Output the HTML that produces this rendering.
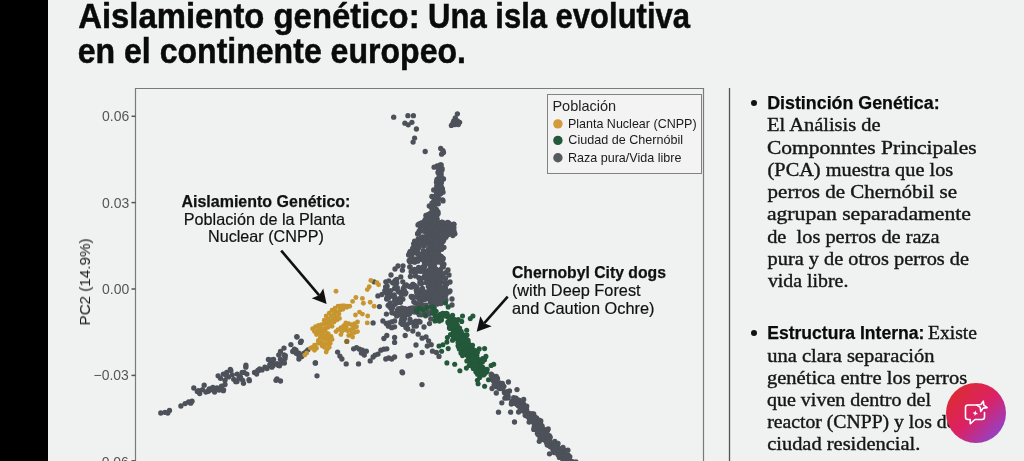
<!DOCTYPE html>
<html lang="es">
<head>
<meta charset="utf-8">
<title>Aislamiento genético</title>
<style>
html,body{margin:0;padding:0;}
body{width:1024px;height:461px;overflow:hidden;background:#f0f2f1;position:relative;font-family:"Liberation Sans",sans-serif;color:#111;}
.bar{position:absolute;left:0;top:0;width:48px;height:461px;background:#000;}
.title{position:absolute;left:76.5px;top:-1.1px;font-weight:bold;font-size:34.5px;line-height:35.4px;color:#0b0b0b;white-space:nowrap;transform:scaleX(0.93);transform-origin:0 0;}
.chart{position:absolute;left:0;top:0;width:1024px;height:461px;will-change:transform;}
.ytick{position:absolute;font-size:13.8px;color:#555;right:895px;white-space:nowrap;line-height:16px;height:16px;}
.ylab{position:absolute;left:84.6px;top:281.6px;font-size:15.2px;color:#1c1c1c;white-space:nowrap;transform:translate(-50%,-50%) rotate(-90deg);line-height:16px;}
.legend{position:absolute;left:547px;top:94px;width:153px;height:78px;border:1px solid #828282;background:#f2f3f2;box-sizing:content-box;}
.legend .lt{position:absolute;left:5.2px;top:3.4px;font-size:14px;line-height:16px;color:#222;}
.legend .li{position:absolute;left:20px;font-size:12.5px;line-height:14px;color:#1a1a1a;white-space:nowrap;}
.legend .ld{position:absolute;left:5.2px;width:9.4px;height:9.4px;border-radius:50%;}
.ann{position:absolute;white-space:nowrap;color:#111;}
.ann b{font-weight:bold;}
.rl{position:absolute;font-family:"Liberation Serif",serif;font-size:20px;line-height:22px;height:22px;color:#161616;white-space:pre;word-spacing:-1.5px;-webkit-text-stroke:0.25px #161616;}
.rb{position:absolute;font-family:"Liberation Sans",sans-serif;font-weight:bold;font-size:17.8px;line-height:22px;height:22px;color:#0b0b0b;white-space:pre;}
.bul{position:absolute;width:6px;height:6px;border-radius:50%;background:#111;}
.fab{position:absolute;left:946px;top:383px;width:60px;height:60px;border-radius:50%;background:linear-gradient(135deg,#dd2c30 10%,#dc2163 50%,#8a46d4 92%);}
</style>
</head>
<body>
<div class="bar"></div>

<svg class="chart" width="1024" height="461" viewBox="0 0 1024 461">
  <!-- plot frame -->
  <path d="M135.5 461 V88.5 H703.5 V461" fill="none" stroke="#7a7a7a" stroke-width="1.2"/>
  <!-- separator -->
  <line x1="729.5" y1="88" x2="729.5" y2="461" stroke="#555" stroke-width="1.3"/>
  <!-- ticks -->
  <g stroke="#555" stroke-width="1.5">
    <line x1="131.5" y1="116.3" x2="135.5" y2="116.3"/>
    <line x1="131.5" y1="202.6" x2="135.5" y2="202.6"/>
    <line x1="131.5" y1="289" x2="135.5" y2="289"/>
    <line x1="131.5" y1="375.4" x2="135.5" y2="375.4"/>
    <line x1="131.5" y1="460.8" x2="135.5" y2="460.8"/>
  </g>
  <g>
<circle cx="393.7" cy="117.2" r="2.65" fill="#4d515a"/>
<circle cx="407.9" cy="115.7" r="2.65" fill="#4d515a"/>
<circle cx="413.4" cy="115.7" r="2.65" fill="#4d515a"/>
<circle cx="404.9" cy="123.2" r="2.65" fill="#4d515a"/>
<circle cx="408.2" cy="124.8" r="2.65" fill="#4d515a"/>
<circle cx="411.9" cy="122.3" r="2.65" fill="#4d515a"/>
<circle cx="416.4" cy="129.0" r="2.65" fill="#4d515a"/>
<circle cx="414.6" cy="138.1" r="2.65" fill="#4d515a"/>
<circle cx="413.1" cy="142.1" r="2.65" fill="#4d515a"/>
<circle cx="425.2" cy="151.5" r="2.65" fill="#4d515a"/>
<circle cx="457.4" cy="113.8" r="2.65" fill="#4d515a"/>
<circle cx="455.3" cy="117.8" r="2.65" fill="#4d515a"/>
<circle cx="453.8" cy="120.8" r="2.65" fill="#4d515a"/>
<circle cx="457.4" cy="120.8" r="2.65" fill="#4d515a"/>
<circle cx="459.6" cy="122.3" r="2.65" fill="#4d515a"/>
<circle cx="451.4" cy="125.4" r="2.65" fill="#4d515a"/>
<circle cx="455.0" cy="124.5" r="2.65" fill="#4d515a"/>
<circle cx="458.3" cy="124.5" r="2.65" fill="#4d515a"/>
<circle cx="453.0" cy="123.0" r="2.65" fill="#4d515a"/>
<circle cx="440.7" cy="148.5" r="2.65" fill="#4d515a"/>
<circle cx="442.9" cy="150.6" r="2.65" fill="#4d515a"/>
<circle cx="441.6" cy="154.2" r="2.65" fill="#4d515a"/>
<circle cx="443.5" cy="152.5" r="2.65" fill="#4d515a"/>
<circle cx="438.0" cy="172.5" r="2.65" fill="#4d515a"/>
<circle cx="437.2" cy="165.9" r="2.65" fill="#4d515a"/>
<circle cx="440.2" cy="177.9" r="2.65" fill="#4d515a"/>
<circle cx="439.2" cy="177.2" r="2.65" fill="#4d515a"/>
<circle cx="440.2" cy="165.0" r="2.65" fill="#4d515a"/>
<circle cx="439.2" cy="166.4" r="2.65" fill="#4d515a"/>
<circle cx="439.2" cy="175.0" r="2.65" fill="#4d515a"/>
<circle cx="440.5" cy="169.8" r="2.65" fill="#4d515a"/>
<circle cx="437.3" cy="180.4" r="2.65" fill="#4d515a"/>
<circle cx="440.5" cy="174.3" r="2.65" fill="#4d515a"/>
<circle cx="436.2" cy="189.5" r="2.65" fill="#4d515a"/>
<circle cx="438.5" cy="171.6" r="2.65" fill="#4d515a"/>
<circle cx="438.3" cy="167.8" r="2.65" fill="#4d515a"/>
<circle cx="438.7" cy="185.2" r="2.65" fill="#4d515a"/>
<circle cx="442.1" cy="168.7" r="2.65" fill="#4d515a"/>
<circle cx="441.1" cy="173.7" r="2.65" fill="#4d515a"/>
<circle cx="439.1" cy="178.3" r="2.65" fill="#4d515a"/>
<circle cx="439.3" cy="169.4" r="2.65" fill="#4d515a"/>
<circle cx="441.4" cy="181.7" r="2.65" fill="#4d515a"/>
<circle cx="439.0" cy="179.2" r="2.65" fill="#4d515a"/>
<circle cx="440.8" cy="175.8" r="2.65" fill="#4d515a"/>
<circle cx="436.5" cy="182.2" r="2.65" fill="#4d515a"/>
<circle cx="441.8" cy="170.3" r="2.65" fill="#4d515a"/>
<circle cx="441.0" cy="186.7" r="2.65" fill="#4d515a"/>
<circle cx="441.2" cy="182.9" r="2.65" fill="#4d515a"/>
<circle cx="434.1" cy="167.2" r="2.65" fill="#4d515a"/>
<circle cx="439.7" cy="174.9" r="2.65" fill="#4d515a"/>
<circle cx="440.9" cy="176.7" r="2.65" fill="#4d515a"/>
<circle cx="441.2" cy="165.0" r="2.65" fill="#4d515a"/>
<circle cx="442.7" cy="178.8" r="2.65" fill="#4d515a"/>
<circle cx="441.1" cy="186.7" r="2.65" fill="#4d515a"/>
<circle cx="437.0" cy="179.5" r="2.65" fill="#4d515a"/>
<circle cx="443.5" cy="179.0" r="2.65" fill="#4d515a"/>
<circle cx="438.9" cy="188.6" r="2.65" fill="#4d515a"/>
<circle cx="440.1" cy="176.3" r="2.65" fill="#4d515a"/>
<circle cx="440.5" cy="182.2" r="2.65" fill="#4d515a"/>
<circle cx="429.3" cy="206.0" r="2.65" fill="#4d515a"/>
<circle cx="437.6" cy="195.4" r="2.65" fill="#4d515a"/>
<circle cx="436.8" cy="198.8" r="2.65" fill="#4d515a"/>
<circle cx="436.3" cy="201.4" r="2.65" fill="#4d515a"/>
<circle cx="437.8" cy="191.4" r="2.65" fill="#4d515a"/>
<circle cx="432.5" cy="211.2" r="2.65" fill="#4d515a"/>
<circle cx="438.8" cy="190.3" r="2.65" fill="#4d515a"/>
<circle cx="429.6" cy="214.0" r="2.65" fill="#4d515a"/>
<circle cx="442.4" cy="189.5" r="2.65" fill="#4d515a"/>
<circle cx="431.0" cy="214.9" r="2.65" fill="#4d515a"/>
<circle cx="431.2" cy="212.7" r="2.65" fill="#4d515a"/>
<circle cx="437.8" cy="200.1" r="2.65" fill="#4d515a"/>
<circle cx="431.9" cy="196.5" r="2.65" fill="#4d515a"/>
<circle cx="443.0" cy="192.2" r="2.65" fill="#4d515a"/>
<circle cx="438.2" cy="191.8" r="2.65" fill="#4d515a"/>
<circle cx="433.7" cy="201.5" r="2.65" fill="#4d515a"/>
<circle cx="434.7" cy="205.4" r="2.65" fill="#4d515a"/>
<circle cx="436.0" cy="199.8" r="2.65" fill="#4d515a"/>
<circle cx="442.6" cy="199.8" r="2.65" fill="#4d515a"/>
<circle cx="436.4" cy="209.5" r="2.65" fill="#4d515a"/>
<circle cx="438.3" cy="203.8" r="2.65" fill="#4d515a"/>
<circle cx="442.1" cy="188.5" r="2.65" fill="#4d515a"/>
<circle cx="430.9" cy="215.4" r="2.65" fill="#4d515a"/>
<circle cx="438.0" cy="213.8" r="2.65" fill="#4d515a"/>
<circle cx="437.4" cy="199.2" r="2.65" fill="#4d515a"/>
<circle cx="433.6" cy="206.7" r="2.65" fill="#4d515a"/>
<circle cx="437.8" cy="187.6" r="2.65" fill="#4d515a"/>
<circle cx="437.8" cy="191.2" r="2.65" fill="#4d515a"/>
<circle cx="436.9" cy="197.2" r="2.65" fill="#4d515a"/>
<circle cx="438.6" cy="191.0" r="2.65" fill="#4d515a"/>
<circle cx="439.5" cy="189.5" r="2.65" fill="#4d515a"/>
<circle cx="431.7" cy="214.7" r="2.65" fill="#4d515a"/>
<circle cx="433.3" cy="205.9" r="2.65" fill="#4d515a"/>
<circle cx="435.3" cy="197.0" r="2.65" fill="#4d515a"/>
<circle cx="433.1" cy="197.0" r="2.65" fill="#4d515a"/>
<circle cx="427.5" cy="217.8" r="2.65" fill="#4d515a"/>
<circle cx="436.9" cy="201.7" r="2.65" fill="#4d515a"/>
<circle cx="439.0" cy="189.3" r="2.65" fill="#4d515a"/>
<circle cx="437.4" cy="197.4" r="2.65" fill="#4d515a"/>
<circle cx="433.7" cy="190.0" r="2.65" fill="#4d515a"/>
<circle cx="436.7" cy="185.9" r="2.65" fill="#4d515a"/>
<circle cx="439.6" cy="191.1" r="2.65" fill="#4d515a"/>
<circle cx="432.0" cy="203.1" r="2.65" fill="#4d515a"/>
<circle cx="430.7" cy="218.1" r="2.65" fill="#4d515a"/>
<circle cx="432.9" cy="214.7" r="2.65" fill="#4d515a"/>
<circle cx="438.6" cy="198.6" r="2.65" fill="#4d515a"/>
<circle cx="438.1" cy="191.4" r="2.65" fill="#4d515a"/>
<circle cx="436.2" cy="212.6" r="2.65" fill="#4d515a"/>
<circle cx="436.2" cy="196.7" r="2.65" fill="#4d515a"/>
<circle cx="426.4" cy="217.2" r="2.65" fill="#4d515a"/>
<circle cx="430.7" cy="213.7" r="2.65" fill="#4d515a"/>
<circle cx="437.9" cy="211.6" r="2.65" fill="#4d515a"/>
<circle cx="440.4" cy="194.1" r="2.65" fill="#4d515a"/>
<circle cx="440.0" cy="187.0" r="2.65" fill="#4d515a"/>
<circle cx="440.1" cy="187.0" r="2.65" fill="#4d515a"/>
<circle cx="431.8" cy="208.3" r="2.65" fill="#4d515a"/>
<circle cx="437.2" cy="219.1" r="2.65" fill="#4d515a"/>
<circle cx="429.1" cy="218.1" r="2.65" fill="#4d515a"/>
<circle cx="432.6" cy="217.8" r="2.65" fill="#4d515a"/>
<circle cx="436.6" cy="193.1" r="2.65" fill="#4d515a"/>
<circle cx="437.2" cy="192.2" r="2.65" fill="#4d515a"/>
<circle cx="428.4" cy="214.8" r="2.65" fill="#4d515a"/>
<circle cx="436.2" cy="214.8" r="2.65" fill="#4d515a"/>
<circle cx="432.3" cy="212.3" r="2.65" fill="#4d515a"/>
<circle cx="442.3" cy="189.6" r="2.65" fill="#4d515a"/>
<circle cx="437.8" cy="213.1" r="2.65" fill="#4d515a"/>
<circle cx="434.9" cy="211.2" r="2.65" fill="#4d515a"/>
<circle cx="432.7" cy="212.0" r="2.65" fill="#4d515a"/>
<circle cx="434.8" cy="196.4" r="2.65" fill="#4d515a"/>
<circle cx="443.0" cy="200.9" r="2.65" fill="#4d515a"/>
<circle cx="435.5" cy="287.7" r="2.65" fill="#4d515a"/>
<circle cx="445.1" cy="296.1" r="2.65" fill="#4d515a"/>
<circle cx="395.0" cy="280.7" r="2.65" fill="#4d515a"/>
<circle cx="440.0" cy="298.1" r="2.65" fill="#4d515a"/>
<circle cx="421.2" cy="243.2" r="2.65" fill="#4d515a"/>
<circle cx="420.0" cy="256.2" r="2.65" fill="#4d515a"/>
<circle cx="409.8" cy="266.9" r="2.65" fill="#4d515a"/>
<circle cx="430.2" cy="238.6" r="2.65" fill="#4d515a"/>
<circle cx="420.4" cy="227.1" r="2.65" fill="#4d515a"/>
<circle cx="439.2" cy="237.8" r="2.65" fill="#4d515a"/>
<circle cx="422.1" cy="305.4" r="2.65" fill="#4d515a"/>
<circle cx="438.0" cy="254.0" r="2.65" fill="#4d515a"/>
<circle cx="430.2" cy="229.6" r="2.65" fill="#4d515a"/>
<circle cx="418.0" cy="233.2" r="2.65" fill="#4d515a"/>
<circle cx="448.1" cy="223.8" r="2.65" fill="#4d515a"/>
<circle cx="431.7" cy="239.6" r="2.65" fill="#4d515a"/>
<circle cx="433.3" cy="285.1" r="2.65" fill="#4d515a"/>
<circle cx="436.1" cy="283.9" r="2.65" fill="#4d515a"/>
<circle cx="441.2" cy="259.7" r="2.65" fill="#4d515a"/>
<circle cx="421.2" cy="240.6" r="2.65" fill="#4d515a"/>
<circle cx="437.7" cy="224.3" r="2.65" fill="#4d515a"/>
<circle cx="445.9" cy="233.8" r="2.65" fill="#4d515a"/>
<circle cx="440.7" cy="231.3" r="2.65" fill="#4d515a"/>
<circle cx="405.7" cy="285.8" r="2.65" fill="#4d515a"/>
<circle cx="427.3" cy="226.4" r="2.65" fill="#4d515a"/>
<circle cx="450.1" cy="229.8" r="2.65" fill="#4d515a"/>
<circle cx="420.3" cy="282.1" r="2.65" fill="#4d515a"/>
<circle cx="443.0" cy="258.9" r="2.65" fill="#4d515a"/>
<circle cx="414.5" cy="269.3" r="2.65" fill="#4d515a"/>
<circle cx="435.7" cy="261.9" r="2.65" fill="#4d515a"/>
<circle cx="434.0" cy="265.0" r="2.65" fill="#4d515a"/>
<circle cx="426.8" cy="217.3" r="2.65" fill="#4d515a"/>
<circle cx="440.9" cy="303.5" r="2.65" fill="#4d515a"/>
<circle cx="440.3" cy="279.3" r="2.65" fill="#4d515a"/>
<circle cx="439.6" cy="295.9" r="2.65" fill="#4d515a"/>
<circle cx="428.4" cy="283.3" r="2.65" fill="#4d515a"/>
<circle cx="444.7" cy="226.7" r="2.65" fill="#4d515a"/>
<circle cx="418.8" cy="277.7" r="2.65" fill="#4d515a"/>
<circle cx="428.2" cy="239.0" r="2.65" fill="#4d515a"/>
<circle cx="445.4" cy="288.1" r="2.65" fill="#4d515a"/>
<circle cx="431.2" cy="263.9" r="2.65" fill="#4d515a"/>
<circle cx="387.6" cy="292.0" r="2.65" fill="#4d515a"/>
<circle cx="431.3" cy="214.3" r="2.65" fill="#4d515a"/>
<circle cx="421.0" cy="259.3" r="2.65" fill="#4d515a"/>
<circle cx="414.5" cy="285.4" r="2.65" fill="#4d515a"/>
<circle cx="426.4" cy="259.4" r="2.65" fill="#4d515a"/>
<circle cx="435.9" cy="299.5" r="2.65" fill="#4d515a"/>
<circle cx="430.1" cy="286.4" r="2.65" fill="#4d515a"/>
<circle cx="430.2" cy="251.3" r="2.65" fill="#4d515a"/>
<circle cx="433.8" cy="250.2" r="2.65" fill="#4d515a"/>
<circle cx="398.7" cy="299.0" r="2.65" fill="#4d515a"/>
<circle cx="442.4" cy="265.6" r="2.65" fill="#4d515a"/>
<circle cx="428.8" cy="226.1" r="2.65" fill="#4d515a"/>
<circle cx="433.8" cy="253.6" r="2.65" fill="#4d515a"/>
<circle cx="443.9" cy="264.2" r="2.65" fill="#4d515a"/>
<circle cx="442.3" cy="259.3" r="2.65" fill="#4d515a"/>
<circle cx="441.6" cy="222.3" r="2.65" fill="#4d515a"/>
<circle cx="416.3" cy="290.2" r="2.65" fill="#4d515a"/>
<circle cx="435.9" cy="247.8" r="2.65" fill="#4d515a"/>
<circle cx="434.9" cy="235.2" r="2.65" fill="#4d515a"/>
<circle cx="388.1" cy="305.3" r="2.65" fill="#4d515a"/>
<circle cx="426.4" cy="238.6" r="2.65" fill="#4d515a"/>
<circle cx="420.7" cy="279.7" r="2.65" fill="#4d515a"/>
<circle cx="424.0" cy="293.6" r="2.65" fill="#4d515a"/>
<circle cx="443.8" cy="226.2" r="2.65" fill="#4d515a"/>
<circle cx="439.5" cy="224.5" r="2.65" fill="#4d515a"/>
<circle cx="409.6" cy="253.0" r="2.65" fill="#4d515a"/>
<circle cx="418.8" cy="304.0" r="2.65" fill="#4d515a"/>
<circle cx="434.1" cy="244.7" r="2.65" fill="#4d515a"/>
<circle cx="441.2" cy="256.3" r="2.65" fill="#4d515a"/>
<circle cx="430.9" cy="236.4" r="2.65" fill="#4d515a"/>
<circle cx="430.5" cy="283.3" r="2.65" fill="#4d515a"/>
<circle cx="426.1" cy="236.8" r="2.65" fill="#4d515a"/>
<circle cx="446.9" cy="227.6" r="2.65" fill="#4d515a"/>
<circle cx="437.5" cy="304.0" r="2.65" fill="#4d515a"/>
<circle cx="436.1" cy="246.9" r="2.65" fill="#4d515a"/>
<circle cx="415.8" cy="252.0" r="2.65" fill="#4d515a"/>
<circle cx="448.3" cy="234.4" r="2.65" fill="#4d515a"/>
<circle cx="420.4" cy="257.5" r="2.65" fill="#4d515a"/>
<circle cx="432.1" cy="307.7" r="2.65" fill="#4d515a"/>
<circle cx="410.4" cy="276.5" r="2.65" fill="#4d515a"/>
<circle cx="390.3" cy="307.4" r="2.65" fill="#4d515a"/>
<circle cx="421.8" cy="289.1" r="2.65" fill="#4d515a"/>
<circle cx="414.6" cy="245.9" r="2.65" fill="#4d515a"/>
<circle cx="436.0" cy="238.5" r="2.65" fill="#4d515a"/>
<circle cx="440.6" cy="269.9" r="2.65" fill="#4d515a"/>
<circle cx="429.4" cy="259.0" r="2.65" fill="#4d515a"/>
<circle cx="425.9" cy="282.4" r="2.65" fill="#4d515a"/>
<circle cx="444.7" cy="233.5" r="2.65" fill="#4d515a"/>
<circle cx="445.8" cy="272.6" r="2.65" fill="#4d515a"/>
<circle cx="449.1" cy="223.5" r="2.65" fill="#4d515a"/>
<circle cx="441.9" cy="259.3" r="2.65" fill="#4d515a"/>
<circle cx="400.8" cy="276.9" r="2.65" fill="#4d515a"/>
<circle cx="428.5" cy="280.1" r="2.65" fill="#4d515a"/>
<circle cx="433.7" cy="222.4" r="2.65" fill="#4d515a"/>
<circle cx="423.1" cy="242.2" r="2.65" fill="#4d515a"/>
<circle cx="439.7" cy="271.4" r="2.65" fill="#4d515a"/>
<circle cx="433.2" cy="234.0" r="2.65" fill="#4d515a"/>
<circle cx="412.1" cy="297.5" r="2.65" fill="#4d515a"/>
<circle cx="452.2" cy="228.0" r="2.65" fill="#4d515a"/>
<circle cx="453.8" cy="224.2" r="2.65" fill="#4d515a"/>
<circle cx="454.1" cy="233.3" r="2.65" fill="#4d515a"/>
<circle cx="446.1" cy="235.9" r="2.65" fill="#4d515a"/>
<circle cx="436.8" cy="231.8" r="2.65" fill="#4d515a"/>
<circle cx="429.1" cy="252.5" r="2.65" fill="#4d515a"/>
<circle cx="416.5" cy="259.0" r="2.65" fill="#4d515a"/>
<circle cx="430.2" cy="231.5" r="2.65" fill="#4d515a"/>
<circle cx="434.2" cy="226.2" r="2.65" fill="#4d515a"/>
<circle cx="434.1" cy="307.4" r="2.65" fill="#4d515a"/>
<circle cx="425.4" cy="227.8" r="2.65" fill="#4d515a"/>
<circle cx="438.6" cy="245.9" r="2.65" fill="#4d515a"/>
<circle cx="421.2" cy="303.9" r="2.65" fill="#4d515a"/>
<circle cx="419.6" cy="295.2" r="2.65" fill="#4d515a"/>
<circle cx="442.9" cy="291.8" r="2.65" fill="#4d515a"/>
<circle cx="411.3" cy="257.5" r="2.65" fill="#4d515a"/>
<circle cx="425.9" cy="215.3" r="2.65" fill="#4d515a"/>
<circle cx="430.4" cy="249.8" r="2.65" fill="#4d515a"/>
<circle cx="414.0" cy="261.9" r="2.65" fill="#4d515a"/>
<circle cx="450.2" cy="228.4" r="2.65" fill="#4d515a"/>
<circle cx="423.6" cy="293.6" r="2.65" fill="#4d515a"/>
<circle cx="430.4" cy="254.8" r="2.65" fill="#4d515a"/>
<circle cx="436.6" cy="227.7" r="2.65" fill="#4d515a"/>
<circle cx="419.2" cy="231.0" r="2.65" fill="#4d515a"/>
<circle cx="430.7" cy="286.7" r="2.65" fill="#4d515a"/>
<circle cx="428.4" cy="259.6" r="2.65" fill="#4d515a"/>
<circle cx="440.5" cy="236.9" r="2.65" fill="#4d515a"/>
<circle cx="443.3" cy="266.9" r="2.65" fill="#4d515a"/>
<circle cx="432.3" cy="246.8" r="2.65" fill="#4d515a"/>
<circle cx="414.9" cy="244.7" r="2.65" fill="#4d515a"/>
<circle cx="433.5" cy="306.8" r="2.65" fill="#4d515a"/>
<circle cx="439.2" cy="248.5" r="2.65" fill="#4d515a"/>
<circle cx="437.3" cy="297.4" r="2.65" fill="#4d515a"/>
<circle cx="406.1" cy="310.3" r="2.65" fill="#4d515a"/>
<circle cx="422.9" cy="296.6" r="2.65" fill="#4d515a"/>
<circle cx="425.6" cy="223.3" r="2.65" fill="#4d515a"/>
<circle cx="431.9" cy="245.9" r="2.65" fill="#4d515a"/>
<circle cx="444.6" cy="286.7" r="2.65" fill="#4d515a"/>
<circle cx="445.6" cy="230.5" r="2.65" fill="#4d515a"/>
<circle cx="448.7" cy="232.0" r="2.65" fill="#4d515a"/>
<circle cx="428.9" cy="242.2" r="2.65" fill="#4d515a"/>
<circle cx="406.4" cy="284.8" r="2.65" fill="#4d515a"/>
<circle cx="403.6" cy="290.6" r="2.65" fill="#4d515a"/>
<circle cx="401.6" cy="292.7" r="2.65" fill="#4d515a"/>
<circle cx="449.1" cy="232.7" r="2.65" fill="#4d515a"/>
<circle cx="443.7" cy="228.9" r="2.65" fill="#4d515a"/>
<circle cx="450.3" cy="229.6" r="2.65" fill="#4d515a"/>
<circle cx="447.4" cy="223.5" r="2.65" fill="#4d515a"/>
<circle cx="419.2" cy="224.0" r="2.65" fill="#4d515a"/>
<circle cx="413.2" cy="284.4" r="2.65" fill="#4d515a"/>
<circle cx="441.6" cy="275.2" r="2.65" fill="#4d515a"/>
<circle cx="444.4" cy="223.1" r="2.65" fill="#4d515a"/>
<circle cx="425.6" cy="308.8" r="2.65" fill="#4d515a"/>
<circle cx="442.9" cy="298.4" r="2.65" fill="#4d515a"/>
<circle cx="430.8" cy="249.6" r="2.65" fill="#4d515a"/>
<circle cx="420.0" cy="256.1" r="2.65" fill="#4d515a"/>
<circle cx="443.0" cy="240.3" r="2.65" fill="#4d515a"/>
<circle cx="418.6" cy="267.3" r="2.65" fill="#4d515a"/>
<circle cx="418.5" cy="296.4" r="2.65" fill="#4d515a"/>
<circle cx="409.6" cy="261.2" r="2.65" fill="#4d515a"/>
<circle cx="399.8" cy="298.9" r="2.65" fill="#4d515a"/>
<circle cx="433.9" cy="239.1" r="2.65" fill="#4d515a"/>
<circle cx="428.4" cy="242.0" r="2.65" fill="#4d515a"/>
<circle cx="437.9" cy="280.9" r="2.65" fill="#4d515a"/>
<circle cx="437.8" cy="278.2" r="2.65" fill="#4d515a"/>
<circle cx="431.4" cy="238.8" r="2.65" fill="#4d515a"/>
<circle cx="437.3" cy="248.7" r="2.65" fill="#4d515a"/>
<circle cx="420.1" cy="270.2" r="2.65" fill="#4d515a"/>
<circle cx="438.1" cy="234.7" r="2.65" fill="#4d515a"/>
<circle cx="430.5" cy="276.0" r="2.65" fill="#4d515a"/>
<circle cx="442.9" cy="223.4" r="2.65" fill="#4d515a"/>
<circle cx="433.9" cy="280.5" r="2.65" fill="#4d515a"/>
<circle cx="419.2" cy="270.9" r="2.65" fill="#4d515a"/>
<circle cx="391.7" cy="309.2" r="2.65" fill="#4d515a"/>
<circle cx="411.2" cy="296.5" r="2.65" fill="#4d515a"/>
<circle cx="415.0" cy="262.0" r="2.65" fill="#4d515a"/>
<circle cx="426.8" cy="226.3" r="2.65" fill="#4d515a"/>
<circle cx="411.8" cy="286.9" r="2.65" fill="#4d515a"/>
<circle cx="434.8" cy="277.9" r="2.65" fill="#4d515a"/>
<circle cx="432.8" cy="297.0" r="2.65" fill="#4d515a"/>
<circle cx="419.1" cy="298.8" r="2.65" fill="#4d515a"/>
<circle cx="439.9" cy="300.7" r="2.65" fill="#4d515a"/>
<circle cx="437.5" cy="248.7" r="2.65" fill="#4d515a"/>
<circle cx="447.1" cy="234.3" r="2.65" fill="#4d515a"/>
<circle cx="435.1" cy="260.4" r="2.65" fill="#4d515a"/>
<circle cx="410.1" cy="266.8" r="2.65" fill="#4d515a"/>
<circle cx="431.6" cy="228.3" r="2.65" fill="#4d515a"/>
<circle cx="435.8" cy="215.1" r="2.65" fill="#4d515a"/>
<circle cx="398.9" cy="292.0" r="2.65" fill="#4d515a"/>
<circle cx="434.4" cy="233.7" r="2.65" fill="#4d515a"/>
<circle cx="437.6" cy="302.7" r="2.65" fill="#4d515a"/>
<circle cx="417.7" cy="253.9" r="2.65" fill="#4d515a"/>
<circle cx="430.7" cy="271.1" r="2.65" fill="#4d515a"/>
<circle cx="435.1" cy="235.8" r="2.65" fill="#4d515a"/>
<circle cx="387.2" cy="286.1" r="2.65" fill="#4d515a"/>
<circle cx="431.7" cy="282.7" r="2.65" fill="#4d515a"/>
<circle cx="445.7" cy="223.9" r="2.65" fill="#4d515a"/>
<circle cx="445.6" cy="230.4" r="2.65" fill="#4d515a"/>
<circle cx="396.8" cy="282.8" r="2.65" fill="#4d515a"/>
<circle cx="451.2" cy="227.4" r="2.65" fill="#4d515a"/>
<circle cx="436.8" cy="277.7" r="2.65" fill="#4d515a"/>
<circle cx="435.8" cy="227.7" r="2.65" fill="#4d515a"/>
<circle cx="428.3" cy="286.5" r="2.65" fill="#4d515a"/>
<circle cx="430.1" cy="229.0" r="2.65" fill="#4d515a"/>
<circle cx="451.4" cy="230.3" r="2.65" fill="#4d515a"/>
<circle cx="402.8" cy="281.8" r="2.65" fill="#4d515a"/>
<circle cx="454.9" cy="233.8" r="2.65" fill="#4d515a"/>
<circle cx="434.9" cy="248.1" r="2.65" fill="#4d515a"/>
<circle cx="425.5" cy="232.1" r="2.65" fill="#4d515a"/>
<circle cx="434.6" cy="286.3" r="2.65" fill="#4d515a"/>
<circle cx="433.2" cy="264.0" r="2.65" fill="#4d515a"/>
<circle cx="424.6" cy="276.1" r="2.65" fill="#4d515a"/>
<circle cx="430.3" cy="302.0" r="2.65" fill="#4d515a"/>
<circle cx="430.4" cy="250.8" r="2.65" fill="#4d515a"/>
<circle cx="427.0" cy="258.9" r="2.65" fill="#4d515a"/>
<circle cx="428.5" cy="236.0" r="2.65" fill="#4d515a"/>
<circle cx="426.7" cy="216.1" r="2.65" fill="#4d515a"/>
<circle cx="410.8" cy="286.9" r="2.65" fill="#4d515a"/>
<circle cx="441.1" cy="225.6" r="2.65" fill="#4d515a"/>
<circle cx="443.0" cy="289.9" r="2.65" fill="#4d515a"/>
<circle cx="427.5" cy="253.0" r="2.65" fill="#4d515a"/>
<circle cx="431.5" cy="296.9" r="2.65" fill="#4d515a"/>
<circle cx="418.7" cy="309.2" r="2.65" fill="#4d515a"/>
<circle cx="423.5" cy="267.7" r="2.65" fill="#4d515a"/>
<circle cx="416.9" cy="242.6" r="2.65" fill="#4d515a"/>
<circle cx="424.8" cy="265.9" r="2.65" fill="#4d515a"/>
<circle cx="440.1" cy="225.8" r="2.65" fill="#4d515a"/>
<circle cx="436.5" cy="254.9" r="2.65" fill="#4d515a"/>
<circle cx="424.0" cy="299.5" r="2.65" fill="#4d515a"/>
<circle cx="435.7" cy="245.0" r="2.65" fill="#4d515a"/>
<circle cx="403.0" cy="265.8" r="2.65" fill="#4d515a"/>
<circle cx="413.8" cy="301.8" r="2.65" fill="#4d515a"/>
<circle cx="398.3" cy="314.7" r="2.65" fill="#4d515a"/>
<circle cx="445.3" cy="224.3" r="2.65" fill="#4d515a"/>
<circle cx="442.8" cy="228.9" r="2.65" fill="#4d515a"/>
<circle cx="425.3" cy="273.3" r="2.65" fill="#4d515a"/>
<circle cx="425.1" cy="243.2" r="2.65" fill="#4d515a"/>
<circle cx="394.9" cy="300.5" r="2.65" fill="#4d515a"/>
<circle cx="417.6" cy="234.0" r="2.65" fill="#4d515a"/>
<circle cx="421.5" cy="283.6" r="2.65" fill="#4d515a"/>
<circle cx="444.9" cy="297.0" r="2.65" fill="#4d515a"/>
<circle cx="439.7" cy="284.1" r="2.65" fill="#4d515a"/>
<circle cx="422.9" cy="256.4" r="2.65" fill="#4d515a"/>
<circle cx="440.0" cy="232.4" r="2.65" fill="#4d515a"/>
<circle cx="434.7" cy="278.6" r="2.65" fill="#4d515a"/>
<circle cx="427.5" cy="272.2" r="2.65" fill="#4d515a"/>
<circle cx="427.4" cy="219.4" r="2.65" fill="#4d515a"/>
<circle cx="433.6" cy="286.7" r="2.65" fill="#4d515a"/>
<circle cx="431.9" cy="240.5" r="2.65" fill="#4d515a"/>
<circle cx="412.8" cy="248.9" r="2.65" fill="#4d515a"/>
<circle cx="440.6" cy="238.7" r="2.65" fill="#4d515a"/>
<circle cx="443.8" cy="297.0" r="2.65" fill="#4d515a"/>
<circle cx="422.0" cy="238.0" r="2.65" fill="#4d515a"/>
<circle cx="421.0" cy="238.1" r="2.65" fill="#4d515a"/>
<circle cx="438.3" cy="252.7" r="2.65" fill="#4d515a"/>
<circle cx="438.5" cy="249.2" r="2.65" fill="#4d515a"/>
<circle cx="430.4" cy="242.2" r="2.65" fill="#4d515a"/>
<circle cx="423.3" cy="222.5" r="2.65" fill="#4d515a"/>
<circle cx="428.8" cy="295.9" r="2.65" fill="#4d515a"/>
<circle cx="412.1" cy="311.7" r="2.65" fill="#4d515a"/>
<circle cx="415.5" cy="259.6" r="2.65" fill="#4d515a"/>
<circle cx="427.9" cy="225.6" r="2.65" fill="#4d515a"/>
<circle cx="419.0" cy="292.5" r="2.65" fill="#4d515a"/>
<circle cx="426.4" cy="253.2" r="2.65" fill="#4d515a"/>
<circle cx="420.0" cy="243.6" r="2.65" fill="#4d515a"/>
<circle cx="437.6" cy="242.1" r="2.65" fill="#4d515a"/>
<circle cx="437.1" cy="226.6" r="2.65" fill="#4d515a"/>
<circle cx="434.2" cy="249.2" r="2.65" fill="#4d515a"/>
<circle cx="445.0" cy="231.7" r="2.65" fill="#4d515a"/>
<circle cx="409.3" cy="286.4" r="2.65" fill="#4d515a"/>
<circle cx="418.7" cy="233.4" r="2.65" fill="#4d515a"/>
<circle cx="431.8" cy="283.5" r="2.65" fill="#4d515a"/>
<circle cx="432.3" cy="242.5" r="2.65" fill="#4d515a"/>
<circle cx="411.3" cy="257.1" r="2.65" fill="#4d515a"/>
<circle cx="434.4" cy="291.5" r="2.65" fill="#4d515a"/>
<circle cx="423.9" cy="269.0" r="2.65" fill="#4d515a"/>
<circle cx="433.9" cy="245.0" r="2.65" fill="#4d515a"/>
<circle cx="429.6" cy="237.5" r="2.65" fill="#4d515a"/>
<circle cx="437.7" cy="274.7" r="2.65" fill="#4d515a"/>
<circle cx="425.5" cy="224.8" r="2.65" fill="#4d515a"/>
<circle cx="423.6" cy="259.1" r="2.65" fill="#4d515a"/>
<circle cx="445.7" cy="290.3" r="2.65" fill="#4d515a"/>
<circle cx="419.7" cy="271.1" r="2.65" fill="#4d515a"/>
<circle cx="434.5" cy="238.9" r="2.65" fill="#4d515a"/>
<circle cx="424.0" cy="246.0" r="2.65" fill="#4d515a"/>
<circle cx="397.3" cy="310.3" r="2.65" fill="#4d515a"/>
<circle cx="424.6" cy="298.1" r="2.65" fill="#4d515a"/>
<circle cx="429.0" cy="248.9" r="2.65" fill="#4d515a"/>
<circle cx="421.5" cy="296.5" r="2.65" fill="#4d515a"/>
<circle cx="413.6" cy="243.8" r="2.65" fill="#4d515a"/>
<circle cx="419.9" cy="259.1" r="2.65" fill="#4d515a"/>
<circle cx="425.2" cy="272.8" r="2.65" fill="#4d515a"/>
<circle cx="438.2" cy="224.8" r="2.65" fill="#4d515a"/>
<circle cx="422.3" cy="239.1" r="2.65" fill="#4d515a"/>
<circle cx="435.1" cy="263.4" r="2.65" fill="#4d515a"/>
<circle cx="426.7" cy="272.0" r="2.65" fill="#4d515a"/>
<circle cx="439.0" cy="255.0" r="2.65" fill="#4d515a"/>
<circle cx="429.0" cy="291.0" r="2.65" fill="#4d515a"/>
<circle cx="434.7" cy="298.5" r="2.65" fill="#4d515a"/>
<circle cx="386.3" cy="292.8" r="2.65" fill="#4d515a"/>
<circle cx="417.4" cy="251.4" r="2.65" fill="#4d515a"/>
<circle cx="419.9" cy="283.1" r="2.65" fill="#4d515a"/>
<circle cx="425.8" cy="295.7" r="2.65" fill="#4d515a"/>
<circle cx="439.2" cy="232.9" r="2.65" fill="#4d515a"/>
<circle cx="442.1" cy="224.7" r="2.65" fill="#4d515a"/>
<circle cx="417.6" cy="270.1" r="2.65" fill="#4d515a"/>
<circle cx="431.5" cy="303.2" r="2.65" fill="#4d515a"/>
<circle cx="415.5" cy="302.9" r="2.65" fill="#4d515a"/>
<circle cx="413.0" cy="297.3" r="2.65" fill="#4d515a"/>
<circle cx="421.5" cy="300.0" r="2.65" fill="#4d515a"/>
<circle cx="430.9" cy="246.9" r="2.65" fill="#4d515a"/>
<circle cx="430.2" cy="217.5" r="2.65" fill="#4d515a"/>
<circle cx="443.9" cy="247.4" r="2.65" fill="#4d515a"/>
<circle cx="427.2" cy="217.7" r="2.65" fill="#4d515a"/>
<circle cx="405.9" cy="292.8" r="2.65" fill="#4d515a"/>
<circle cx="426.2" cy="294.9" r="2.65" fill="#4d515a"/>
<circle cx="423.4" cy="291.6" r="2.65" fill="#4d515a"/>
<circle cx="433.6" cy="262.6" r="2.65" fill="#4d515a"/>
<circle cx="445.9" cy="237.2" r="2.65" fill="#4d515a"/>
<circle cx="417.1" cy="259.7" r="2.65" fill="#4d515a"/>
<circle cx="429.0" cy="230.4" r="2.65" fill="#4d515a"/>
<circle cx="424.8" cy="305.6" r="2.65" fill="#4d515a"/>
<circle cx="441.7" cy="234.9" r="2.65" fill="#4d515a"/>
<circle cx="412.9" cy="247.8" r="2.65" fill="#4d515a"/>
<circle cx="424.7" cy="277.5" r="2.65" fill="#4d515a"/>
<circle cx="427.0" cy="260.7" r="2.65" fill="#4d515a"/>
<circle cx="419.2" cy="314.7" r="2.65" fill="#4d515a"/>
<circle cx="447.8" cy="222.6" r="2.65" fill="#4d515a"/>
<circle cx="426.6" cy="273.6" r="2.65" fill="#4d515a"/>
<circle cx="431.8" cy="289.3" r="2.65" fill="#4d515a"/>
<circle cx="445.3" cy="292.9" r="2.65" fill="#4d515a"/>
<circle cx="441.7" cy="259.7" r="2.65" fill="#4d515a"/>
<circle cx="442.2" cy="226.6" r="2.65" fill="#4d515a"/>
<circle cx="447.7" cy="222.3" r="2.65" fill="#4d515a"/>
<circle cx="416.8" cy="270.2" r="2.65" fill="#4d515a"/>
<circle cx="409.2" cy="260.4" r="2.65" fill="#4d515a"/>
<circle cx="434.6" cy="236.1" r="2.65" fill="#4d515a"/>
<circle cx="432.8" cy="302.5" r="2.65" fill="#4d515a"/>
<circle cx="441.3" cy="242.1" r="2.65" fill="#4d515a"/>
<circle cx="440.3" cy="274.6" r="2.65" fill="#4d515a"/>
<circle cx="443.4" cy="301.9" r="2.65" fill="#4d515a"/>
<circle cx="434.0" cy="243.7" r="2.65" fill="#4d515a"/>
<circle cx="421.3" cy="223.0" r="2.65" fill="#4d515a"/>
<circle cx="385.6" cy="286.8" r="2.65" fill="#4d515a"/>
<circle cx="429.7" cy="223.8" r="2.65" fill="#4d515a"/>
<circle cx="440.3" cy="249.0" r="2.65" fill="#4d515a"/>
<circle cx="422.4" cy="288.3" r="2.65" fill="#4d515a"/>
<circle cx="428.6" cy="220.1" r="2.65" fill="#4d515a"/>
<circle cx="414.3" cy="252.9" r="2.65" fill="#4d515a"/>
<circle cx="425.6" cy="315.8" r="2.65" fill="#4d515a"/>
<circle cx="415.4" cy="275.9" r="2.65" fill="#4d515a"/>
<circle cx="444.6" cy="300.9" r="2.65" fill="#4d515a"/>
<circle cx="422.8" cy="266.8" r="2.65" fill="#4d515a"/>
<circle cx="429.9" cy="237.6" r="2.65" fill="#4d515a"/>
<circle cx="426.5" cy="298.7" r="2.65" fill="#4d515a"/>
<circle cx="432.7" cy="266.7" r="2.65" fill="#4d515a"/>
<circle cx="434.1" cy="284.6" r="2.65" fill="#4d515a"/>
<circle cx="427.7" cy="237.5" r="2.65" fill="#4d515a"/>
<circle cx="427.0" cy="271.8" r="2.65" fill="#4d515a"/>
<circle cx="431.8" cy="301.5" r="2.65" fill="#4d515a"/>
<circle cx="438.6" cy="243.4" r="2.65" fill="#4d515a"/>
<circle cx="441.7" cy="249.3" r="2.65" fill="#4d515a"/>
<circle cx="404.5" cy="286.3" r="2.65" fill="#4d515a"/>
<circle cx="439.1" cy="299.5" r="2.65" fill="#4d515a"/>
<circle cx="437.3" cy="258.3" r="2.65" fill="#4d515a"/>
<circle cx="439.1" cy="292.3" r="2.65" fill="#4d515a"/>
<circle cx="438.9" cy="223.5" r="2.65" fill="#4d515a"/>
<circle cx="431.5" cy="286.2" r="2.65" fill="#4d515a"/>
<circle cx="446.6" cy="284.2" r="2.65" fill="#4d515a"/>
<circle cx="416.0" cy="297.1" r="2.65" fill="#4d515a"/>
<circle cx="421.4" cy="314.8" r="2.65" fill="#4d515a"/>
<circle cx="402.4" cy="270.2" r="2.65" fill="#4d515a"/>
<circle cx="400.2" cy="302.3" r="2.65" fill="#4d515a"/>
<circle cx="429.9" cy="251.5" r="2.65" fill="#4d515a"/>
<circle cx="424.5" cy="270.3" r="2.65" fill="#4d515a"/>
<circle cx="430.1" cy="271.2" r="2.65" fill="#4d515a"/>
<circle cx="443.8" cy="234.3" r="2.65" fill="#4d515a"/>
<circle cx="423.0" cy="243.2" r="2.65" fill="#4d515a"/>
<circle cx="409.4" cy="314.0" r="2.65" fill="#4d515a"/>
<circle cx="433.4" cy="269.2" r="2.65" fill="#4d515a"/>
<circle cx="434.1" cy="267.2" r="2.65" fill="#4d515a"/>
<circle cx="440.4" cy="222.6" r="2.65" fill="#4d515a"/>
<circle cx="435.5" cy="268.7" r="2.65" fill="#4d515a"/>
<circle cx="417.9" cy="312.6" r="2.65" fill="#4d515a"/>
<circle cx="431.7" cy="247.3" r="2.65" fill="#4d515a"/>
<circle cx="416.3" cy="249.3" r="2.65" fill="#4d515a"/>
<circle cx="436.4" cy="303.0" r="2.65" fill="#4d515a"/>
<circle cx="422.2" cy="225.1" r="2.65" fill="#4d515a"/>
<circle cx="424.6" cy="261.2" r="2.65" fill="#4d515a"/>
<circle cx="417.3" cy="250.8" r="2.65" fill="#4d515a"/>
<circle cx="436.4" cy="226.1" r="2.65" fill="#4d515a"/>
<circle cx="447.6" cy="228.8" r="2.65" fill="#4d515a"/>
<circle cx="434.9" cy="284.3" r="2.65" fill="#4d515a"/>
<circle cx="438.0" cy="255.4" r="2.65" fill="#4d515a"/>
<circle cx="393.4" cy="282.9" r="2.65" fill="#4d515a"/>
<circle cx="452.8" cy="235.6" r="2.65" fill="#4d515a"/>
<circle cx="432.5" cy="294.5" r="2.65" fill="#4d515a"/>
<circle cx="437.9" cy="278.5" r="2.65" fill="#4d515a"/>
<circle cx="405.0" cy="294.0" r="2.65" fill="#4d515a"/>
<circle cx="442.9" cy="289.8" r="2.65" fill="#4d515a"/>
<circle cx="434.5" cy="293.8" r="2.65" fill="#4d515a"/>
<circle cx="424.8" cy="310.4" r="2.65" fill="#4d515a"/>
<circle cx="435.4" cy="294.7" r="2.65" fill="#4d515a"/>
<circle cx="438.1" cy="254.8" r="2.65" fill="#4d515a"/>
<circle cx="420.3" cy="299.1" r="2.65" fill="#4d515a"/>
<circle cx="411.9" cy="296.7" r="2.65" fill="#4d515a"/>
<circle cx="440.5" cy="235.0" r="2.65" fill="#4d515a"/>
<circle cx="432.7" cy="243.1" r="2.65" fill="#4d515a"/>
<circle cx="434.7" cy="285.2" r="2.65" fill="#4d515a"/>
<circle cx="431.0" cy="232.0" r="2.65" fill="#4d515a"/>
<circle cx="426.6" cy="253.6" r="2.65" fill="#4d515a"/>
<circle cx="401.4" cy="310.3" r="2.65" fill="#4d515a"/>
<circle cx="439.6" cy="301.8" r="2.65" fill="#4d515a"/>
<circle cx="431.2" cy="283.4" r="2.65" fill="#4d515a"/>
<circle cx="389.6" cy="304.8" r="2.65" fill="#4d515a"/>
<circle cx="418.0" cy="304.8" r="2.65" fill="#4d515a"/>
<circle cx="415.1" cy="286.1" r="2.65" fill="#4d515a"/>
<circle cx="401.5" cy="294.7" r="2.65" fill="#4d515a"/>
<circle cx="386.2" cy="289.0" r="2.65" fill="#4d515a"/>
<circle cx="429.9" cy="312.1" r="2.65" fill="#4d515a"/>
<circle cx="431.0" cy="246.1" r="2.65" fill="#4d515a"/>
<circle cx="443.8" cy="239.8" r="2.65" fill="#4d515a"/>
<circle cx="427.8" cy="240.5" r="2.65" fill="#4d515a"/>
<circle cx="402.8" cy="299.2" r="2.65" fill="#4d515a"/>
<circle cx="430.1" cy="241.4" r="2.65" fill="#4d515a"/>
<circle cx="411.8" cy="271.3" r="2.65" fill="#4d515a"/>
<circle cx="434.6" cy="290.6" r="2.65" fill="#4d515a"/>
<circle cx="453.8" cy="224.5" r="2.65" fill="#4d515a"/>
<circle cx="434.5" cy="289.5" r="2.65" fill="#4d515a"/>
<circle cx="428.7" cy="249.0" r="2.65" fill="#4d515a"/>
<circle cx="391.7" cy="305.9" r="2.65" fill="#4d515a"/>
<circle cx="420.5" cy="281.8" r="2.65" fill="#4d515a"/>
<circle cx="440.4" cy="290.7" r="2.65" fill="#4d515a"/>
<circle cx="439.2" cy="289.5" r="2.65" fill="#4d515a"/>
<circle cx="435.4" cy="285.5" r="2.65" fill="#4d515a"/>
<circle cx="427.8" cy="297.9" r="2.65" fill="#4d515a"/>
<circle cx="416.4" cy="246.5" r="2.65" fill="#4d515a"/>
<circle cx="430.9" cy="241.3" r="2.65" fill="#4d515a"/>
<circle cx="389.8" cy="296.2" r="2.65" fill="#4d515a"/>
<circle cx="423.0" cy="277.8" r="2.65" fill="#4d515a"/>
<circle cx="434.3" cy="294.7" r="2.65" fill="#4d515a"/>
<circle cx="433.7" cy="256.7" r="2.65" fill="#4d515a"/>
<circle cx="426.2" cy="273.2" r="2.65" fill="#4d515a"/>
<circle cx="444.1" cy="226.8" r="2.65" fill="#4d515a"/>
<circle cx="425.2" cy="259.8" r="2.65" fill="#4d515a"/>
<circle cx="431.6" cy="266.2" r="2.65" fill="#4d515a"/>
<circle cx="416.9" cy="287.1" r="2.65" fill="#4d515a"/>
<circle cx="400.4" cy="301.9" r="2.65" fill="#4d515a"/>
<circle cx="430.7" cy="295.9" r="2.65" fill="#4d515a"/>
<circle cx="435.4" cy="224.0" r="2.65" fill="#4d515a"/>
<circle cx="390.9" cy="294.9" r="2.65" fill="#4d515a"/>
<circle cx="424.2" cy="299.7" r="2.65" fill="#4d515a"/>
<circle cx="434.3" cy="273.3" r="2.65" fill="#4d515a"/>
<circle cx="425.8" cy="260.8" r="2.65" fill="#4d515a"/>
<circle cx="431.6" cy="234.2" r="2.65" fill="#4d515a"/>
<circle cx="439.6" cy="226.0" r="2.65" fill="#4d515a"/>
<circle cx="444.0" cy="236.6" r="2.65" fill="#4d515a"/>
<circle cx="445.5" cy="278.3" r="2.65" fill="#4d515a"/>
<circle cx="437.7" cy="295.7" r="2.65" fill="#4d515a"/>
<circle cx="401.9" cy="308.8" r="2.65" fill="#4d515a"/>
<circle cx="426.2" cy="221.0" r="2.65" fill="#4d515a"/>
<circle cx="409.4" cy="253.9" r="2.65" fill="#4d515a"/>
<circle cx="448.1" cy="234.3" r="2.65" fill="#4d515a"/>
<circle cx="439.2" cy="249.3" r="2.65" fill="#4d515a"/>
<circle cx="432.4" cy="213.7" r="2.65" fill="#4d515a"/>
<circle cx="412.7" cy="284.3" r="2.65" fill="#4d515a"/>
<circle cx="432.4" cy="275.9" r="2.65" fill="#4d515a"/>
<circle cx="424.5" cy="239.0" r="2.65" fill="#4d515a"/>
<circle cx="442.3" cy="222.8" r="2.65" fill="#4d515a"/>
<circle cx="404.3" cy="290.5" r="2.65" fill="#4d515a"/>
<circle cx="416.7" cy="292.8" r="2.65" fill="#4d515a"/>
<circle cx="442.2" cy="222.2" r="2.65" fill="#4d515a"/>
<circle cx="421.6" cy="289.8" r="2.65" fill="#4d515a"/>
<circle cx="441.5" cy="234.5" r="2.65" fill="#4d515a"/>
<circle cx="431.1" cy="273.9" r="2.65" fill="#4d515a"/>
<circle cx="437.2" cy="244.3" r="2.65" fill="#4d515a"/>
<circle cx="453.9" cy="227.6" r="2.65" fill="#4d515a"/>
<circle cx="395.5" cy="283.8" r="2.65" fill="#4d515a"/>
<circle cx="426.8" cy="244.2" r="2.65" fill="#4d515a"/>
<circle cx="423.1" cy="295.7" r="2.65" fill="#4d515a"/>
<circle cx="430.9" cy="271.7" r="2.65" fill="#4d515a"/>
<circle cx="418.2" cy="238.9" r="2.65" fill="#4d515a"/>
<circle cx="420.3" cy="242.4" r="2.65" fill="#4d515a"/>
<circle cx="431.0" cy="233.0" r="2.65" fill="#4d515a"/>
<circle cx="421.8" cy="230.9" r="2.65" fill="#4d515a"/>
<circle cx="446.6" cy="234.9" r="2.65" fill="#4d515a"/>
<circle cx="403.3" cy="288.3" r="2.65" fill="#4d515a"/>
<circle cx="424.4" cy="262.6" r="2.65" fill="#4d515a"/>
<circle cx="395.2" cy="301.3" r="2.65" fill="#4d515a"/>
<circle cx="432.2" cy="221.4" r="2.65" fill="#4d515a"/>
<circle cx="429.5" cy="258.2" r="2.65" fill="#4d515a"/>
<circle cx="417.7" cy="260.0" r="2.65" fill="#4d515a"/>
<circle cx="408.6" cy="254.9" r="2.65" fill="#4d515a"/>
<circle cx="410.2" cy="251.5" r="2.65" fill="#4d515a"/>
<circle cx="432.9" cy="227.2" r="2.65" fill="#4d515a"/>
<circle cx="430.9" cy="259.6" r="2.65" fill="#4d515a"/>
<circle cx="411.5" cy="255.0" r="2.65" fill="#4d515a"/>
<circle cx="434.2" cy="302.7" r="2.65" fill="#4d515a"/>
<circle cx="390.2" cy="296.1" r="2.65" fill="#4d515a"/>
<circle cx="440.5" cy="280.8" r="2.65" fill="#4d515a"/>
<circle cx="411.1" cy="271.7" r="2.65" fill="#4d515a"/>
<circle cx="434.2" cy="279.7" r="2.65" fill="#4d515a"/>
<circle cx="422.9" cy="237.0" r="2.65" fill="#4d515a"/>
<circle cx="424.8" cy="292.0" r="2.65" fill="#4d515a"/>
<circle cx="428.8" cy="240.4" r="2.65" fill="#4d515a"/>
<circle cx="444.2" cy="231.1" r="2.65" fill="#4d515a"/>
<circle cx="444.3" cy="282.6" r="2.65" fill="#4d515a"/>
<circle cx="403.6" cy="312.5" r="2.65" fill="#4d515a"/>
<circle cx="438.3" cy="297.6" r="2.65" fill="#4d515a"/>
<circle cx="415.2" cy="273.6" r="2.65" fill="#4d515a"/>
<circle cx="431.3" cy="220.2" r="2.65" fill="#4d515a"/>
<circle cx="437.1" cy="215.0" r="2.65" fill="#4d515a"/>
<circle cx="429.6" cy="228.3" r="2.65" fill="#4d515a"/>
<circle cx="439.2" cy="256.0" r="2.65" fill="#4d515a"/>
<circle cx="435.4" cy="218.7" r="2.65" fill="#4d515a"/>
<circle cx="429.8" cy="284.8" r="2.65" fill="#4d515a"/>
<circle cx="426.2" cy="263.7" r="2.65" fill="#4d515a"/>
<circle cx="430.0" cy="295.8" r="2.65" fill="#4d515a"/>
<circle cx="428.1" cy="281.3" r="2.65" fill="#4d515a"/>
<circle cx="436.4" cy="278.3" r="2.65" fill="#4d515a"/>
<circle cx="397.3" cy="287.6" r="2.65" fill="#4d515a"/>
<circle cx="440.9" cy="278.9" r="2.65" fill="#4d515a"/>
<circle cx="427.0" cy="234.1" r="2.65" fill="#4d515a"/>
<circle cx="448.5" cy="229.2" r="2.65" fill="#4d515a"/>
<circle cx="428.7" cy="294.8" r="2.65" fill="#4d515a"/>
<circle cx="420.4" cy="303.4" r="2.65" fill="#4d515a"/>
<circle cx="432.4" cy="265.2" r="2.65" fill="#4d515a"/>
<circle cx="435.9" cy="223.9" r="2.65" fill="#4d515a"/>
<circle cx="442.0" cy="235.9" r="2.65" fill="#4d515a"/>
<circle cx="442.1" cy="292.3" r="2.65" fill="#4d515a"/>
<circle cx="408.2" cy="309.2" r="2.65" fill="#4d515a"/>
<circle cx="419.4" cy="306.7" r="2.65" fill="#4d515a"/>
<circle cx="426.4" cy="292.4" r="2.65" fill="#4d515a"/>
<circle cx="430.5" cy="256.9" r="2.65" fill="#4d515a"/>
<circle cx="451.0" cy="225.0" r="2.65" fill="#4d515a"/>
<circle cx="418.9" cy="306.1" r="2.65" fill="#4d515a"/>
<circle cx="405.2" cy="311.7" r="2.65" fill="#4d515a"/>
<circle cx="404.3" cy="315.0" r="2.65" fill="#4d515a"/>
<circle cx="425.7" cy="311.1" r="2.65" fill="#4d515a"/>
<circle cx="423.2" cy="250.7" r="2.65" fill="#4d515a"/>
<circle cx="433.1" cy="224.4" r="2.65" fill="#4d515a"/>
<circle cx="434.3" cy="290.8" r="2.65" fill="#4d515a"/>
<circle cx="431.8" cy="290.7" r="2.65" fill="#4d515a"/>
<circle cx="437.2" cy="300.3" r="2.65" fill="#4d515a"/>
<circle cx="435.9" cy="269.4" r="2.65" fill="#4d515a"/>
<circle cx="418.2" cy="293.6" r="2.65" fill="#4d515a"/>
<circle cx="419.2" cy="246.7" r="2.65" fill="#4d515a"/>
<circle cx="424.9" cy="220.3" r="2.65" fill="#4d515a"/>
<circle cx="442.2" cy="260.6" r="2.65" fill="#4d515a"/>
<circle cx="426.0" cy="305.2" r="2.65" fill="#4d515a"/>
<circle cx="437.3" cy="257.2" r="2.65" fill="#4d515a"/>
<circle cx="421.7" cy="294.3" r="2.65" fill="#4d515a"/>
<circle cx="441.4" cy="257.6" r="2.65" fill="#4d515a"/>
<circle cx="444.9" cy="233.8" r="2.65" fill="#4d515a"/>
<circle cx="397.4" cy="302.5" r="2.65" fill="#4d515a"/>
<circle cx="436.9" cy="270.7" r="2.65" fill="#4d515a"/>
<circle cx="430.0" cy="239.7" r="2.65" fill="#4d515a"/>
<circle cx="417.7" cy="261.2" r="2.65" fill="#4d515a"/>
<circle cx="410.3" cy="308.3" r="2.65" fill="#4d515a"/>
<circle cx="428.1" cy="238.2" r="2.65" fill="#4d515a"/>
<circle cx="436.2" cy="244.2" r="2.65" fill="#4d515a"/>
<circle cx="435.6" cy="221.8" r="2.65" fill="#4d515a"/>
<circle cx="454.0" cy="231.9" r="2.65" fill="#4d515a"/>
<circle cx="410.2" cy="261.6" r="2.65" fill="#4d515a"/>
<circle cx="453.8" cy="230.4" r="2.65" fill="#4d515a"/>
<circle cx="420.7" cy="254.5" r="2.65" fill="#4d515a"/>
<circle cx="431.6" cy="284.1" r="2.65" fill="#4d515a"/>
<circle cx="441.8" cy="288.0" r="2.65" fill="#4d515a"/>
<circle cx="424.8" cy="254.4" r="2.65" fill="#4d515a"/>
<circle cx="447.2" cy="228.0" r="2.65" fill="#4d515a"/>
<circle cx="443.5" cy="273.8" r="2.65" fill="#4d515a"/>
<circle cx="440.2" cy="269.6" r="2.65" fill="#4d515a"/>
<circle cx="405.1" cy="308.7" r="2.65" fill="#4d515a"/>
<circle cx="425.3" cy="239.8" r="2.65" fill="#4d515a"/>
<circle cx="430.3" cy="307.0" r="2.65" fill="#4d515a"/>
<circle cx="439.9" cy="228.1" r="2.65" fill="#4d515a"/>
<circle cx="438.7" cy="257.7" r="2.65" fill="#4d515a"/>
<circle cx="435.5" cy="252.7" r="2.65" fill="#4d515a"/>
<circle cx="436.2" cy="216.9" r="2.65" fill="#4d515a"/>
<circle cx="430.8" cy="277.9" r="2.65" fill="#4d515a"/>
<circle cx="437.2" cy="257.7" r="2.65" fill="#4d515a"/>
<circle cx="434.9" cy="231.0" r="2.65" fill="#4d515a"/>
<circle cx="433.7" cy="283.1" r="2.65" fill="#4d515a"/>
<circle cx="427.2" cy="272.3" r="2.65" fill="#4d515a"/>
<circle cx="438.2" cy="270.8" r="2.65" fill="#4d515a"/>
<circle cx="446.0" cy="294.6" r="2.65" fill="#4d515a"/>
<circle cx="435.1" cy="223.6" r="2.65" fill="#4d515a"/>
<circle cx="430.4" cy="279.8" r="2.65" fill="#4d515a"/>
<circle cx="443.0" cy="241.6" r="2.65" fill="#4d515a"/>
<circle cx="410.2" cy="261.7" r="2.65" fill="#4d515a"/>
<circle cx="411.2" cy="251.8" r="2.65" fill="#4d515a"/>
<circle cx="439.8" cy="262.2" r="2.65" fill="#4d515a"/>
<circle cx="394.9" cy="288.1" r="2.65" fill="#4d515a"/>
<circle cx="413.0" cy="296.9" r="2.65" fill="#4d515a"/>
<circle cx="437.4" cy="292.4" r="2.65" fill="#4d515a"/>
<circle cx="436.6" cy="258.7" r="2.65" fill="#4d515a"/>
<circle cx="415.6" cy="308.1" r="2.65" fill="#4d515a"/>
<circle cx="436.0" cy="230.3" r="2.65" fill="#4d515a"/>
<circle cx="437.4" cy="240.6" r="2.65" fill="#4d515a"/>
<circle cx="428.8" cy="314.1" r="2.65" fill="#4d515a"/>
<circle cx="429.6" cy="269.4" r="2.65" fill="#4d515a"/>
<circle cx="429.3" cy="277.8" r="2.65" fill="#4d515a"/>
<circle cx="425.3" cy="219.6" r="2.65" fill="#4d515a"/>
<circle cx="430.5" cy="265.3" r="2.65" fill="#4d515a"/>
<circle cx="391.9" cy="312.8" r="2.65" fill="#4d515a"/>
<circle cx="389.1" cy="306.0" r="2.65" fill="#4d515a"/>
<circle cx="402.4" cy="314.1" r="2.65" fill="#4d515a"/>
<circle cx="420.2" cy="280.3" r="2.65" fill="#4d515a"/>
<circle cx="428.0" cy="214.6" r="2.65" fill="#4d515a"/>
<circle cx="398.1" cy="291.0" r="2.65" fill="#4d515a"/>
<circle cx="434.7" cy="262.2" r="2.65" fill="#4d515a"/>
<circle cx="441.3" cy="299.0" r="2.65" fill="#4d515a"/>
<circle cx="430.8" cy="275.2" r="2.65" fill="#4d515a"/>
<circle cx="433.9" cy="221.5" r="2.65" fill="#4d515a"/>
<circle cx="411.9" cy="309.5" r="2.65" fill="#4d515a"/>
<circle cx="435.0" cy="247.5" r="2.65" fill="#4d515a"/>
<circle cx="431.3" cy="254.0" r="2.65" fill="#4d515a"/>
<circle cx="418.8" cy="247.5" r="2.65" fill="#4d515a"/>
<circle cx="412.0" cy="257.4" r="2.65" fill="#4d515a"/>
<circle cx="412.6" cy="307.8" r="2.65" fill="#4d515a"/>
<circle cx="427.8" cy="258.1" r="2.65" fill="#4d515a"/>
<circle cx="430.7" cy="278.6" r="2.65" fill="#4d515a"/>
<circle cx="418.0" cy="224.9" r="2.65" fill="#4d515a"/>
<circle cx="444.6" cy="294.0" r="2.65" fill="#4d515a"/>
<circle cx="421.9" cy="271.3" r="2.65" fill="#4d515a"/>
<circle cx="428.7" cy="234.9" r="2.65" fill="#4d515a"/>
<circle cx="431.9" cy="288.5" r="2.65" fill="#4d515a"/>
<circle cx="414.6" cy="241.1" r="2.65" fill="#4d515a"/>
<circle cx="430.9" cy="312.1" r="2.65" fill="#4d515a"/>
<circle cx="438.5" cy="286.3" r="2.65" fill="#4d515a"/>
<circle cx="443.0" cy="258.2" r="2.65" fill="#4d515a"/>
<circle cx="451.1" cy="231.9" r="2.65" fill="#4d515a"/>
<circle cx="425.0" cy="251.6" r="2.65" fill="#4d515a"/>
<circle cx="426.1" cy="239.3" r="2.65" fill="#4d515a"/>
<circle cx="422.7" cy="291.4" r="2.65" fill="#4d515a"/>
<circle cx="437.8" cy="275.9" r="2.65" fill="#4d515a"/>
<circle cx="415.0" cy="272.2" r="2.65" fill="#4d515a"/>
<circle cx="396.6" cy="279.4" r="2.65" fill="#4d515a"/>
<circle cx="441.4" cy="245.1" r="2.65" fill="#4d515a"/>
<circle cx="437.6" cy="251.9" r="2.65" fill="#4d515a"/>
<circle cx="434.3" cy="223.8" r="2.65" fill="#4d515a"/>
<circle cx="394.2" cy="296.9" r="2.65" fill="#4d515a"/>
<circle cx="388.6" cy="297.7" r="2.65" fill="#4d515a"/>
<circle cx="394.2" cy="297.0" r="2.65" fill="#4d515a"/>
<circle cx="396.0" cy="299.1" r="2.65" fill="#4d515a"/>
<circle cx="386.6" cy="299.0" r="2.65" fill="#4d515a"/>
<circle cx="390.1" cy="303.0" r="2.65" fill="#4d515a"/>
<circle cx="377.9" cy="295.9" r="2.65" fill="#4d515a"/>
<circle cx="394.9" cy="301.2" r="2.65" fill="#4d515a"/>
<circle cx="387.2" cy="297.2" r="2.65" fill="#4d515a"/>
<circle cx="394.2" cy="294.9" r="2.65" fill="#4d515a"/>
<circle cx="395.0" cy="269.0" r="2.65" fill="#4d515a"/>
<circle cx="391.0" cy="275.0" r="2.65" fill="#4d515a"/>
<circle cx="398.0" cy="266.0" r="2.65" fill="#4d515a"/>
<circle cx="447.0" cy="283.0" r="2.65" fill="#4d515a"/>
<circle cx="450.0" cy="291.0" r="2.65" fill="#4d515a"/>
<circle cx="452.0" cy="299.0" r="2.65" fill="#4d515a"/>
<circle cx="449.0" cy="275.0" r="2.65" fill="#4d515a"/>
<circle cx="414.8" cy="312.1" r="2.65" fill="#4d515a"/>
<circle cx="400.9" cy="323.1" r="2.65" fill="#4d515a"/>
<circle cx="400.5" cy="314.1" r="2.65" fill="#4d515a"/>
<circle cx="429.5" cy="323.6" r="2.65" fill="#4d515a"/>
<circle cx="404.6" cy="318.2" r="2.65" fill="#4d515a"/>
<circle cx="401.2" cy="309.8" r="2.65" fill="#4d515a"/>
<circle cx="403.8" cy="320.7" r="2.65" fill="#4d515a"/>
<circle cx="413.1" cy="311.5" r="2.65" fill="#4d515a"/>
<circle cx="386.2" cy="323.5" r="2.65" fill="#4d515a"/>
<circle cx="401.5" cy="320.7" r="2.65" fill="#4d515a"/>
<circle cx="415.7" cy="323.5" r="2.65" fill="#4d515a"/>
<circle cx="402.5" cy="310.4" r="2.65" fill="#4d515a"/>
<circle cx="402.0" cy="318.4" r="2.65" fill="#4d515a"/>
<circle cx="410.7" cy="309.6" r="2.65" fill="#4d515a"/>
<circle cx="412.8" cy="310.9" r="2.65" fill="#4d515a"/>
<circle cx="407.8" cy="314.6" r="2.65" fill="#4d515a"/>
<circle cx="412.8" cy="331.0" r="2.65" fill="#4d515a"/>
<circle cx="401.8" cy="307.8" r="2.65" fill="#4d515a"/>
<circle cx="396.7" cy="316.1" r="2.65" fill="#4d515a"/>
<circle cx="410.0" cy="319.5" r="2.65" fill="#4d515a"/>
<circle cx="398.6" cy="308.7" r="2.65" fill="#4d515a"/>
<circle cx="407.2" cy="324.6" r="2.65" fill="#4d515a"/>
<circle cx="417.0" cy="322.2" r="2.65" fill="#4d515a"/>
<circle cx="413.6" cy="322.3" r="2.65" fill="#4d515a"/>
<circle cx="403.1" cy="323.0" r="2.65" fill="#4d515a"/>
<circle cx="415.7" cy="321.1" r="2.65" fill="#4d515a"/>
<circle cx="404.0" cy="313.8" r="2.65" fill="#4d515a"/>
<circle cx="402.6" cy="324.4" r="2.65" fill="#4d515a"/>
<circle cx="394.7" cy="313.6" r="2.65" fill="#4d515a"/>
<circle cx="410.4" cy="308.3" r="2.65" fill="#4d515a"/>
<circle cx="409.9" cy="322.4" r="2.65" fill="#4d515a"/>
<circle cx="414.2" cy="309.2" r="2.65" fill="#4d515a"/>
<circle cx="408.2" cy="310.3" r="2.65" fill="#4d515a"/>
<circle cx="382.9" cy="321.0" r="2.65" fill="#4d515a"/>
<circle cx="414.4" cy="308.2" r="2.65" fill="#4d515a"/>
<circle cx="418.8" cy="321.1" r="2.65" fill="#4d515a"/>
<circle cx="430.8" cy="318.9" r="2.65" fill="#4d515a"/>
<circle cx="423.9" cy="314.3" r="2.65" fill="#4d515a"/>
<circle cx="405.9" cy="327.5" r="2.65" fill="#4d515a"/>
<circle cx="416.3" cy="326.1" r="2.65" fill="#4d515a"/>
<circle cx="418.2" cy="334.2" r="2.65" fill="#4d515a"/>
<circle cx="422.1" cy="338.2" r="2.65" fill="#4d515a"/>
<circle cx="426.0" cy="336.9" r="2.65" fill="#4d515a"/>
<circle cx="428.6" cy="340.8" r="2.65" fill="#4d515a"/>
<circle cx="431.2" cy="344.7" r="2.65" fill="#4d515a"/>
<circle cx="427.3" cy="346.0" r="2.65" fill="#4d515a"/>
<circle cx="432.5" cy="351.2" r="2.65" fill="#4d515a"/>
<circle cx="436.4" cy="352.5" r="2.65" fill="#4d515a"/>
<circle cx="439.0" cy="356.4" r="2.65" fill="#4d515a"/>
<circle cx="422.1" cy="352.5" r="2.65" fill="#4d515a"/>
<circle cx="410.4" cy="355.1" r="2.65" fill="#4d515a"/>
<circle cx="402.6" cy="372.8" r="2.65" fill="#4d515a"/>
<circle cx="405.2" cy="335.5" r="2.65" fill="#4d515a"/>
<circle cx="407.8" cy="329.0" r="2.65" fill="#4d515a"/>
<circle cx="414.0" cy="326.0" r="2.65" fill="#4d515a"/>
<circle cx="420.0" cy="322.0" r="2.65" fill="#4d515a"/>
<circle cx="424.0" cy="327.0" r="2.65" fill="#4d515a"/>
<circle cx="416.0" cy="345.0" r="2.65" fill="#4d515a"/>
<circle cx="422.0" cy="384.6" r="2.65" fill="#4d515a"/>
<circle cx="402.0" cy="372.0" r="2.65" fill="#4d515a"/>
<circle cx="408.0" cy="356.0" r="2.65" fill="#4d515a"/>
<circle cx="446.0" cy="300.0" r="2.65" fill="#4d515a"/>
<circle cx="449.0" cy="292.0" r="2.65" fill="#4d515a"/>
<circle cx="452.0" cy="305.0" r="2.65" fill="#4d515a"/>
<circle cx="448.0" cy="270.0" r="2.65" fill="#4d515a"/>
<circle cx="450.0" cy="282.0" r="2.65" fill="#4d515a"/>
<circle cx="160.8" cy="413.0" r="2.65" fill="#4d515a"/>
<circle cx="165.0" cy="412.3" r="2.65" fill="#4d515a"/>
<circle cx="169.5" cy="410.5" r="2.65" fill="#4d515a"/>
<circle cx="167.8" cy="413.0" r="2.65" fill="#4d515a"/>
<circle cx="180.9" cy="406.0" r="2.65" fill="#4d515a"/>
<circle cx="185.1" cy="403.6" r="2.65" fill="#4d515a"/>
<circle cx="188.6" cy="401.9" r="2.65" fill="#4d515a"/>
<circle cx="192.0" cy="401.2" r="2.65" fill="#4d515a"/>
<circle cx="190.7" cy="403.2" r="2.65" fill="#4d515a"/>
<circle cx="193.8" cy="388.0" r="2.65" fill="#4d515a"/>
<circle cx="197.3" cy="391.4" r="2.65" fill="#4d515a"/>
<circle cx="199.7" cy="393.5" r="2.65" fill="#4d515a"/>
<circle cx="202.5" cy="389.7" r="2.65" fill="#4d515a"/>
<circle cx="204.2" cy="385.2" r="2.65" fill="#4d515a"/>
<circle cx="205.9" cy="392.1" r="2.65" fill="#4d515a"/>
<circle cx="207.7" cy="391.4" r="2.65" fill="#4d515a"/>
<circle cx="209.4" cy="389.0" r="2.65" fill="#4d515a"/>
<circle cx="211.1" cy="389.7" r="2.65" fill="#4d515a"/>
<circle cx="212.9" cy="387.3" r="2.65" fill="#4d515a"/>
<circle cx="214.6" cy="392.1" r="2.65" fill="#4d515a"/>
<circle cx="217.0" cy="388.0" r="2.65" fill="#4d515a"/>
<circle cx="219.1" cy="390.1" r="2.65" fill="#4d515a"/>
<circle cx="221.5" cy="386.2" r="2.65" fill="#4d515a"/>
<circle cx="223.3" cy="390.7" r="2.65" fill="#4d515a"/>
<circle cx="225.0" cy="384.5" r="2.65" fill="#4d515a"/>
<circle cx="218.1" cy="375.8" r="2.65" fill="#4d515a"/>
<circle cx="220.5" cy="378.3" r="2.65" fill="#4d515a"/>
<circle cx="223.3" cy="374.1" r="2.65" fill="#4d515a"/>
<circle cx="225.0" cy="380.3" r="2.65" fill="#4d515a"/>
<circle cx="226.7" cy="372.4" r="2.65" fill="#4d515a"/>
<circle cx="228.5" cy="376.9" r="2.65" fill="#4d515a"/>
<circle cx="230.9" cy="370.6" r="2.65" fill="#4d515a"/>
<circle cx="232.3" cy="374.8" r="2.65" fill="#4d515a"/>
<circle cx="233.7" cy="379.3" r="2.65" fill="#4d515a"/>
<circle cx="235.8" cy="381.7" r="2.65" fill="#4d515a"/>
<circle cx="237.2" cy="374.1" r="2.65" fill="#4d515a"/>
<circle cx="238.9" cy="378.3" r="2.65" fill="#4d515a"/>
<circle cx="240.6" cy="377.6" r="2.65" fill="#4d515a"/>
<circle cx="242.7" cy="380.3" r="2.65" fill="#4d515a"/>
<circle cx="244.1" cy="372.4" r="2.65" fill="#4d515a"/>
<circle cx="245.8" cy="367.2" r="2.65" fill="#4d515a"/>
<circle cx="246.9" cy="374.1" r="2.65" fill="#4d515a"/>
<circle cx="249.0" cy="379.6" r="2.65" fill="#4d515a"/>
<circle cx="254.5" cy="372.4" r="2.65" fill="#4d515a"/>
<circle cx="256.6" cy="374.1" r="2.65" fill="#4d515a"/>
<circle cx="258.7" cy="370.6" r="2.65" fill="#4d515a"/>
<circle cx="259.7" cy="368.9" r="2.65" fill="#4d515a"/>
<circle cx="262.1" cy="369.9" r="2.65" fill="#4d515a"/>
<circle cx="264.9" cy="367.2" r="2.65" fill="#4d515a"/>
<circle cx="267.0" cy="368.5" r="2.65" fill="#4d515a"/>
<circle cx="270.1" cy="365.4" r="2.65" fill="#4d515a"/>
<circle cx="271.9" cy="367.2" r="2.65" fill="#4d515a"/>
<circle cx="273.6" cy="363.7" r="2.65" fill="#4d515a"/>
<circle cx="277.1" cy="363.7" r="2.65" fill="#4d515a"/>
<circle cx="279.5" cy="365.8" r="2.65" fill="#4d515a"/>
<circle cx="281.6" cy="363.0" r="2.65" fill="#4d515a"/>
<circle cx="276.0" cy="380.3" r="2.65" fill="#4d515a"/>
<circle cx="280.5" cy="381.0" r="2.65" fill="#4d515a"/>
<circle cx="268.4" cy="359.5" r="2.65" fill="#4d515a"/>
<circle cx="271.2" cy="360.9" r="2.65" fill="#4d515a"/>
<circle cx="273.6" cy="359.5" r="2.65" fill="#4d515a"/>
<circle cx="278.8" cy="355.0" r="2.65" fill="#4d515a"/>
<circle cx="280.5" cy="351.5" r="2.65" fill="#4d515a"/>
<circle cx="284.0" cy="348.1" r="2.65" fill="#4d515a"/>
<circle cx="282.3" cy="362.0" r="2.65" fill="#4d515a"/>
<circle cx="284.0" cy="355.0" r="2.65" fill="#4d515a"/>
<circle cx="285.0" cy="358.5" r="2.65" fill="#4d515a"/>
<circle cx="290.9" cy="344.6" r="2.65" fill="#4d515a"/>
<circle cx="292.7" cy="351.5" r="2.65" fill="#4d515a"/>
<circle cx="294.4" cy="349.1" r="2.65" fill="#4d515a"/>
<circle cx="296.1" cy="353.3" r="2.65" fill="#4d515a"/>
<circle cx="298.9" cy="355.4" r="2.65" fill="#4d515a"/>
<circle cx="301.3" cy="356.7" r="2.65" fill="#4d515a"/>
<circle cx="303.8" cy="353.3" r="2.65" fill="#4d515a"/>
<circle cx="296.8" cy="336.6" r="2.65" fill="#4d515a"/>
<circle cx="301.3" cy="341.1" r="2.65" fill="#4d515a"/>
<circle cx="305.9" cy="351.9" r="2.65" fill="#4d515a"/>
<circle cx="307.9" cy="349.8" r="2.65" fill="#4d515a"/>
<circle cx="315.2" cy="363.0" r="2.65" fill="#4d515a"/>
<circle cx="317.0" cy="375.8" r="2.65" fill="#4d515a"/>
<circle cx="198.6" cy="390.6" r="2.65" fill="#4d515a"/>
<circle cx="208.8" cy="390.8" r="2.65" fill="#4d515a"/>
<circle cx="209.1" cy="389.4" r="2.65" fill="#4d515a"/>
<circle cx="210.6" cy="389.3" r="2.65" fill="#4d515a"/>
<circle cx="212.5" cy="388.2" r="2.65" fill="#4d515a"/>
<circle cx="223.6" cy="389.8" r="2.65" fill="#4d515a"/>
<circle cx="226.3" cy="375.6" r="2.65" fill="#4d515a"/>
<circle cx="230.3" cy="369.4" r="2.65" fill="#4d515a"/>
<circle cx="237.0" cy="381.5" r="2.65" fill="#4d515a"/>
<circle cx="240.1" cy="376.4" r="2.65" fill="#4d515a"/>
<circle cx="243.5" cy="383.3" r="2.65" fill="#4d515a"/>
<circle cx="242.2" cy="372.3" r="2.65" fill="#4d515a"/>
<circle cx="245.9" cy="365.2" r="2.65" fill="#4d515a"/>
<circle cx="249.3" cy="380.7" r="2.65" fill="#4d515a"/>
<circle cx="257.8" cy="370.5" r="2.65" fill="#4d515a"/>
<circle cx="269.9" cy="364.3" r="2.65" fill="#4d515a"/>
<circle cx="273.2" cy="365.4" r="2.65" fill="#4d515a"/>
<circle cx="278.5" cy="365.4" r="2.65" fill="#4d515a"/>
<circle cx="284.4" cy="363.0" r="2.65" fill="#4d515a"/>
<circle cx="277.0" cy="379.0" r="2.65" fill="#4d515a"/>
<circle cx="271.4" cy="359.9" r="2.65" fill="#4d515a"/>
<circle cx="280.4" cy="359.3" r="2.65" fill="#4d515a"/>
<circle cx="285.3" cy="355.7" r="2.65" fill="#4d515a"/>
<circle cx="374.1" cy="281.8" r="2.65" fill="#4d515a"/>
<circle cx="385.8" cy="281.8" r="2.65" fill="#4d515a"/>
<circle cx="388.8" cy="280.9" r="2.65" fill="#4d515a"/>
<circle cx="392.7" cy="282.8" r="2.65" fill="#4d515a"/>
<circle cx="381.9" cy="294.5" r="2.65" fill="#4d515a"/>
<circle cx="384.8" cy="290.6" r="2.65" fill="#4d515a"/>
<circle cx="386.8" cy="289.6" r="2.65" fill="#4d515a"/>
<circle cx="390.7" cy="290.6" r="2.65" fill="#4d515a"/>
<circle cx="394.6" cy="288.7" r="2.65" fill="#4d515a"/>
<circle cx="379.4" cy="306.6" r="2.65" fill="#4d515a"/>
<circle cx="386.4" cy="314.1" r="2.65" fill="#4d515a"/>
<circle cx="392.7" cy="307.2" r="2.65" fill="#4d515a"/>
<circle cx="395.0" cy="304.3" r="2.65" fill="#4d515a"/>
<circle cx="373.1" cy="322.9" r="2.65" fill="#4d515a"/>
<circle cx="388.8" cy="322.9" r="2.65" fill="#4d515a"/>
<circle cx="391.7" cy="321.9" r="2.65" fill="#4d515a"/>
<circle cx="394.6" cy="320.9" r="2.65" fill="#4d515a"/>
<circle cx="388.4" cy="326.2" r="2.65" fill="#4d515a"/>
<circle cx="391.7" cy="327.7" r="2.65" fill="#4d515a"/>
<circle cx="394.6" cy="326.8" r="2.65" fill="#4d515a"/>
<circle cx="386.8" cy="335.5" r="2.65" fill="#4d515a"/>
<circle cx="383.9" cy="338.5" r="2.65" fill="#4d515a"/>
<circle cx="394.6" cy="337.5" r="2.65" fill="#4d515a"/>
<circle cx="394.6" cy="342.4" r="2.65" fill="#4d515a"/>
<circle cx="353.6" cy="348.8" r="2.65" fill="#4d515a"/>
<circle cx="356.5" cy="347.7" r="2.65" fill="#4d515a"/>
<circle cx="359.5" cy="349.2" r="2.65" fill="#4d515a"/>
<circle cx="362.4" cy="350.2" r="2.65" fill="#4d515a"/>
<circle cx="361.4" cy="353.1" r="2.65" fill="#4d515a"/>
<circle cx="364.3" cy="355.1" r="2.65" fill="#4d515a"/>
<circle cx="366.3" cy="351.2" r="2.65" fill="#4d515a"/>
<circle cx="337.6" cy="352.1" r="2.65" fill="#4d515a"/>
<circle cx="339.9" cy="356.1" r="2.65" fill="#4d515a"/>
<circle cx="341.9" cy="359.0" r="2.65" fill="#4d515a"/>
<circle cx="315.5" cy="362.9" r="2.65" fill="#4d515a"/>
<circle cx="346.2" cy="363.9" r="2.65" fill="#4d515a"/>
<circle cx="358.5" cy="363.9" r="2.65" fill="#4d515a"/>
<circle cx="370.2" cy="360.9" r="2.65" fill="#4d515a"/>
<circle cx="373.1" cy="357.0" r="2.65" fill="#4d515a"/>
<circle cx="375.1" cy="355.1" r="2.65" fill="#4d515a"/>
<circle cx="378.0" cy="354.1" r="2.65" fill="#4d515a"/>
<circle cx="380.9" cy="350.2" r="2.65" fill="#4d515a"/>
<circle cx="383.9" cy="349.2" r="2.65" fill="#4d515a"/>
<circle cx="386.8" cy="348.8" r="2.65" fill="#4d515a"/>
<circle cx="385.8" cy="359.0" r="2.65" fill="#4d515a"/>
<circle cx="388.8" cy="358.0" r="2.65" fill="#4d515a"/>
<circle cx="391.7" cy="359.0" r="2.65" fill="#4d515a"/>
<circle cx="394.6" cy="357.0" r="2.65" fill="#4d515a"/>
<circle cx="297.0" cy="337.1" r="2.65" fill="#4d515a"/>
<circle cx="300.5" cy="342.4" r="2.65" fill="#4d515a"/>
<circle cx="296.0" cy="350.2" r="2.65" fill="#4d515a"/>
<circle cx="298.9" cy="353.1" r="2.65" fill="#4d515a"/>
<circle cx="301.8" cy="356.1" r="2.65" fill="#4d515a"/>
<circle cx="298.9" cy="359.0" r="2.65" fill="#4d515a"/>
<circle cx="493.4" cy="378.5" r="2.65" fill="#4d515a"/>
<circle cx="496.0" cy="386.5" r="2.65" fill="#4d515a"/>
<circle cx="493.1" cy="378.7" r="2.65" fill="#4d515a"/>
<circle cx="493.0" cy="380.5" r="2.65" fill="#4d515a"/>
<circle cx="502.3" cy="385.0" r="2.65" fill="#4d515a"/>
<circle cx="501.7" cy="386.7" r="2.65" fill="#4d515a"/>
<circle cx="504.9" cy="398.2" r="2.65" fill="#4d515a"/>
<circle cx="494.6" cy="379.6" r="2.65" fill="#4d515a"/>
<circle cx="491.4" cy="375.4" r="2.65" fill="#4d515a"/>
<circle cx="503.9" cy="386.3" r="2.65" fill="#4d515a"/>
<circle cx="495.1" cy="380.0" r="2.65" fill="#4d515a"/>
<circle cx="507.2" cy="391.6" r="2.65" fill="#4d515a"/>
<circle cx="497.5" cy="378.5" r="2.65" fill="#4d515a"/>
<circle cx="499.5" cy="382.9" r="2.65" fill="#4d515a"/>
<circle cx="498.9" cy="388.0" r="2.65" fill="#4d515a"/>
<circle cx="504.4" cy="392.4" r="2.65" fill="#4d515a"/>
<circle cx="496.3" cy="376.3" r="2.65" fill="#4d515a"/>
<circle cx="493.7" cy="376.2" r="2.65" fill="#4d515a"/>
<circle cx="508.0" cy="395.7" r="2.65" fill="#4d515a"/>
<circle cx="496.3" cy="380.3" r="2.65" fill="#4d515a"/>
<circle cx="492.6" cy="376.4" r="2.65" fill="#4d515a"/>
<circle cx="500.4" cy="387.1" r="2.65" fill="#4d515a"/>
<circle cx="496.5" cy="380.2" r="2.65" fill="#4d515a"/>
<circle cx="497.0" cy="384.9" r="2.65" fill="#4d515a"/>
<circle cx="507.4" cy="394.1" r="2.65" fill="#4d515a"/>
<circle cx="496.2" cy="379.3" r="2.65" fill="#4d515a"/>
<circle cx="491.3" cy="374.2" r="2.65" fill="#4d515a"/>
<circle cx="504.8" cy="392.4" r="2.65" fill="#4d515a"/>
<circle cx="506.1" cy="394.8" r="2.65" fill="#4d515a"/>
<circle cx="491.6" cy="375.2" r="2.65" fill="#4d515a"/>
<circle cx="509.5" cy="391.0" r="2.65" fill="#4d515a"/>
<circle cx="497.2" cy="385.7" r="2.65" fill="#4d515a"/>
<circle cx="494.1" cy="384.8" r="2.65" fill="#4d515a"/>
<circle cx="499.9" cy="388.5" r="2.65" fill="#4d515a"/>
<circle cx="502.3" cy="383.5" r="2.65" fill="#4d515a"/>
<circle cx="507.2" cy="396.0" r="2.65" fill="#4d515a"/>
<circle cx="500.1" cy="386.8" r="2.65" fill="#4d515a"/>
<circle cx="508.1" cy="397.9" r="2.65" fill="#4d515a"/>
<circle cx="500.3" cy="383.7" r="2.65" fill="#4d515a"/>
<circle cx="502.0" cy="384.6" r="2.65" fill="#4d515a"/>
<circle cx="502.8" cy="388.8" r="2.65" fill="#4d515a"/>
<circle cx="507.0" cy="397.6" r="2.65" fill="#4d515a"/>
<circle cx="516.0" cy="398.1" r="2.65" fill="#4d515a"/>
<circle cx="532.7" cy="421.9" r="2.65" fill="#4d515a"/>
<circle cx="513.7" cy="397.7" r="2.65" fill="#4d515a"/>
<circle cx="533.7" cy="414.0" r="2.65" fill="#4d515a"/>
<circle cx="522.0" cy="410.0" r="2.65" fill="#4d515a"/>
<circle cx="527.8" cy="414.8" r="2.65" fill="#4d515a"/>
<circle cx="528.6" cy="414.7" r="2.65" fill="#4d515a"/>
<circle cx="525.2" cy="415.3" r="2.65" fill="#4d515a"/>
<circle cx="525.7" cy="414.7" r="2.65" fill="#4d515a"/>
<circle cx="519.3" cy="406.2" r="2.65" fill="#4d515a"/>
<circle cx="526.6" cy="410.7" r="2.65" fill="#4d515a"/>
<circle cx="527.1" cy="413.6" r="2.65" fill="#4d515a"/>
<circle cx="518.2" cy="405.6" r="2.65" fill="#4d515a"/>
<circle cx="526.3" cy="408.5" r="2.65" fill="#4d515a"/>
<circle cx="529.1" cy="418.0" r="2.65" fill="#4d515a"/>
<circle cx="511.5" cy="403.1" r="2.65" fill="#4d515a"/>
<circle cx="531.6" cy="421.3" r="2.65" fill="#4d515a"/>
<circle cx="520.2" cy="407.3" r="2.65" fill="#4d515a"/>
<circle cx="517.6" cy="401.1" r="2.65" fill="#4d515a"/>
<circle cx="520.5" cy="409.2" r="2.65" fill="#4d515a"/>
<circle cx="516.1" cy="400.2" r="2.65" fill="#4d515a"/>
<circle cx="535.2" cy="418.3" r="2.65" fill="#4d515a"/>
<circle cx="522.1" cy="405.7" r="2.65" fill="#4d515a"/>
<circle cx="534.6" cy="419.2" r="2.65" fill="#4d515a"/>
<circle cx="521.4" cy="403.4" r="2.65" fill="#4d515a"/>
<circle cx="523.7" cy="404.1" r="2.65" fill="#4d515a"/>
<circle cx="530.1" cy="414.2" r="2.65" fill="#4d515a"/>
<circle cx="511.9" cy="401.3" r="2.65" fill="#4d515a"/>
<circle cx="521.7" cy="409.3" r="2.65" fill="#4d515a"/>
<circle cx="523.1" cy="407.2" r="2.65" fill="#4d515a"/>
<circle cx="530.2" cy="414.3" r="2.65" fill="#4d515a"/>
<circle cx="523.2" cy="410.9" r="2.65" fill="#4d515a"/>
<circle cx="518.6" cy="412.0" r="2.65" fill="#4d515a"/>
<circle cx="518.8" cy="402.5" r="2.65" fill="#4d515a"/>
<circle cx="525.6" cy="410.1" r="2.65" fill="#4d515a"/>
<circle cx="522.2" cy="408.5" r="2.65" fill="#4d515a"/>
<circle cx="534.5" cy="416.6" r="2.65" fill="#4d515a"/>
<circle cx="526.7" cy="416.1" r="2.65" fill="#4d515a"/>
<circle cx="512.5" cy="401.6" r="2.65" fill="#4d515a"/>
<circle cx="519.3" cy="405.0" r="2.65" fill="#4d515a"/>
<circle cx="527.3" cy="415.6" r="2.65" fill="#4d515a"/>
<circle cx="514.6" cy="402.2" r="2.65" fill="#4d515a"/>
<circle cx="522.1" cy="410.0" r="2.65" fill="#4d515a"/>
<circle cx="517.0" cy="404.0" r="2.65" fill="#4d515a"/>
<circle cx="512.7" cy="402.3" r="2.65" fill="#4d515a"/>
<circle cx="523.6" cy="410.4" r="2.65" fill="#4d515a"/>
<circle cx="514.2" cy="403.1" r="2.65" fill="#4d515a"/>
<circle cx="519.4" cy="402.5" r="2.65" fill="#4d515a"/>
<circle cx="517.2" cy="404.6" r="2.65" fill="#4d515a"/>
<circle cx="530.0" cy="413.6" r="2.65" fill="#4d515a"/>
<circle cx="512.4" cy="403.4" r="2.65" fill="#4d515a"/>
<circle cx="526.7" cy="410.5" r="2.65" fill="#4d515a"/>
<circle cx="532.0" cy="417.1" r="2.65" fill="#4d515a"/>
<circle cx="528.0" cy="413.6" r="2.65" fill="#4d515a"/>
<circle cx="526.1" cy="410.8" r="2.65" fill="#4d515a"/>
<circle cx="525.0" cy="407.6" r="2.65" fill="#4d515a"/>
<circle cx="517.5" cy="401.6" r="2.65" fill="#4d515a"/>
<circle cx="525.3" cy="411.7" r="2.65" fill="#4d515a"/>
<circle cx="519.3" cy="404.9" r="2.65" fill="#4d515a"/>
<circle cx="511.3" cy="404.1" r="2.65" fill="#4d515a"/>
<circle cx="532.2" cy="413.8" r="2.65" fill="#4d515a"/>
<circle cx="514.4" cy="401.8" r="2.65" fill="#4d515a"/>
<circle cx="526.7" cy="406.2" r="2.65" fill="#4d515a"/>
<circle cx="520.8" cy="406.8" r="2.65" fill="#4d515a"/>
<circle cx="520.6" cy="408.9" r="2.65" fill="#4d515a"/>
<circle cx="536.2" cy="417.8" r="2.65" fill="#4d515a"/>
<circle cx="529.1" cy="422.1" r="2.65" fill="#4d515a"/>
<circle cx="518.1" cy="404.3" r="2.65" fill="#4d515a"/>
<circle cx="532.2" cy="414.5" r="2.65" fill="#4d515a"/>
<circle cx="536.5" cy="418.2" r="2.65" fill="#4d515a"/>
<circle cx="526.5" cy="413.2" r="2.65" fill="#4d515a"/>
<circle cx="515.6" cy="398.6" r="2.65" fill="#4d515a"/>
<circle cx="531.9" cy="417.2" r="2.65" fill="#4d515a"/>
<circle cx="525.4" cy="413.1" r="2.65" fill="#4d515a"/>
<circle cx="519.0" cy="400.1" r="2.65" fill="#4d515a"/>
<circle cx="535.8" cy="421.6" r="2.65" fill="#4d515a"/>
<circle cx="539.9" cy="433.5" r="2.65" fill="#4d515a"/>
<circle cx="540.4" cy="433.0" r="2.65" fill="#4d515a"/>
<circle cx="540.9" cy="433.7" r="2.65" fill="#4d515a"/>
<circle cx="544.8" cy="438.4" r="2.65" fill="#4d515a"/>
<circle cx="542.0" cy="425.8" r="2.65" fill="#4d515a"/>
<circle cx="541.5" cy="433.6" r="2.65" fill="#4d515a"/>
<circle cx="544.7" cy="433.1" r="2.65" fill="#4d515a"/>
<circle cx="543.6" cy="429.4" r="2.65" fill="#4d515a"/>
<circle cx="538.4" cy="430.7" r="2.65" fill="#4d515a"/>
<circle cx="539.3" cy="441.3" r="2.65" fill="#4d515a"/>
<circle cx="540.5" cy="436.1" r="2.65" fill="#4d515a"/>
<circle cx="544.2" cy="435.7" r="2.65" fill="#4d515a"/>
<circle cx="538.4" cy="423.9" r="2.65" fill="#4d515a"/>
<circle cx="549.3" cy="435.7" r="2.65" fill="#4d515a"/>
<circle cx="542.5" cy="436.5" r="2.65" fill="#4d515a"/>
<circle cx="545.1" cy="434.1" r="2.65" fill="#4d515a"/>
<circle cx="541.5" cy="428.1" r="2.65" fill="#4d515a"/>
<circle cx="541.3" cy="436.2" r="2.65" fill="#4d515a"/>
<circle cx="541.9" cy="437.0" r="2.65" fill="#4d515a"/>
<circle cx="540.8" cy="420.9" r="2.65" fill="#4d515a"/>
<circle cx="539.0" cy="421.4" r="2.65" fill="#4d515a"/>
<circle cx="539.9" cy="425.5" r="2.65" fill="#4d515a"/>
<circle cx="534.4" cy="422.4" r="2.65" fill="#4d515a"/>
<circle cx="534.5" cy="425.4" r="2.65" fill="#4d515a"/>
<circle cx="546.7" cy="434.7" r="2.65" fill="#4d515a"/>
<circle cx="534.2" cy="427.5" r="2.65" fill="#4d515a"/>
<circle cx="538.8" cy="424.3" r="2.65" fill="#4d515a"/>
<circle cx="539.9" cy="428.0" r="2.65" fill="#4d515a"/>
<circle cx="534.2" cy="429.4" r="2.65" fill="#4d515a"/>
<circle cx="539.1" cy="426.8" r="2.65" fill="#4d515a"/>
<circle cx="533.9" cy="420.1" r="2.65" fill="#4d515a"/>
<circle cx="538.8" cy="424.0" r="2.65" fill="#4d515a"/>
<circle cx="532.6" cy="421.4" r="2.65" fill="#4d515a"/>
<circle cx="539.1" cy="432.0" r="2.65" fill="#4d515a"/>
<circle cx="540.7" cy="429.2" r="2.65" fill="#4d515a"/>
<circle cx="543.2" cy="439.5" r="2.65" fill="#4d515a"/>
<circle cx="533.9" cy="429.4" r="2.65" fill="#4d515a"/>
<circle cx="537.4" cy="421.5" r="2.65" fill="#4d515a"/>
<circle cx="540.0" cy="438.1" r="2.65" fill="#4d515a"/>
<circle cx="543.3" cy="435.5" r="2.65" fill="#4d515a"/>
<circle cx="547.4" cy="430.6" r="2.65" fill="#4d515a"/>
<circle cx="538.8" cy="421.5" r="2.65" fill="#4d515a"/>
<circle cx="541.4" cy="429.8" r="2.65" fill="#4d515a"/>
<circle cx="535.0" cy="424.3" r="2.65" fill="#4d515a"/>
<circle cx="547.0" cy="431.1" r="2.65" fill="#4d515a"/>
<circle cx="544.1" cy="430.6" r="2.65" fill="#4d515a"/>
<circle cx="537.4" cy="433.2" r="2.65" fill="#4d515a"/>
<circle cx="543.7" cy="429.3" r="2.65" fill="#4d515a"/>
<circle cx="536.7" cy="426.8" r="2.65" fill="#4d515a"/>
<circle cx="537.9" cy="420.7" r="2.65" fill="#4d515a"/>
<circle cx="540.8" cy="425.0" r="2.65" fill="#4d515a"/>
<circle cx="548.2" cy="429.0" r="2.65" fill="#4d515a"/>
<circle cx="538.1" cy="434.5" r="2.65" fill="#4d515a"/>
<circle cx="542.0" cy="427.1" r="2.65" fill="#4d515a"/>
<circle cx="540.2" cy="428.4" r="2.65" fill="#4d515a"/>
<circle cx="539.2" cy="420.2" r="2.65" fill="#4d515a"/>
<circle cx="541.2" cy="431.8" r="2.65" fill="#4d515a"/>
<circle cx="544.5" cy="431.8" r="2.65" fill="#4d515a"/>
<circle cx="543.6" cy="437.4" r="2.65" fill="#4d515a"/>
<circle cx="559.0" cy="452.6" r="2.65" fill="#4d515a"/>
<circle cx="549.5" cy="453.8" r="2.65" fill="#4d515a"/>
<circle cx="560.2" cy="448.6" r="2.65" fill="#4d515a"/>
<circle cx="568.9" cy="458.8" r="2.65" fill="#4d515a"/>
<circle cx="574.0" cy="463.4" r="2.65" fill="#4d515a"/>
<circle cx="548.9" cy="445.4" r="2.65" fill="#4d515a"/>
<circle cx="545.3" cy="440.4" r="2.65" fill="#4d515a"/>
<circle cx="563.0" cy="447.5" r="2.65" fill="#4d515a"/>
<circle cx="555.1" cy="452.3" r="2.65" fill="#4d515a"/>
<circle cx="569.3" cy="461.6" r="2.65" fill="#4d515a"/>
<circle cx="554.7" cy="442.7" r="2.65" fill="#4d515a"/>
<circle cx="556.1" cy="445.0" r="2.65" fill="#4d515a"/>
<circle cx="563.9" cy="455.9" r="2.65" fill="#4d515a"/>
<circle cx="561.1" cy="451.0" r="2.65" fill="#4d515a"/>
<circle cx="571.7" cy="467.3" r="2.65" fill="#4d515a"/>
<circle cx="551.6" cy="444.1" r="2.65" fill="#4d515a"/>
<circle cx="548.1" cy="441.7" r="2.65" fill="#4d515a"/>
<circle cx="550.2" cy="437.2" r="2.65" fill="#4d515a"/>
<circle cx="563.9" cy="458.8" r="2.65" fill="#4d515a"/>
<circle cx="571.8" cy="465.4" r="2.65" fill="#4d515a"/>
<circle cx="564.1" cy="451.9" r="2.65" fill="#4d515a"/>
<circle cx="547.1" cy="438.2" r="2.65" fill="#4d515a"/>
<circle cx="562.4" cy="456.1" r="2.65" fill="#4d515a"/>
<circle cx="549.2" cy="438.9" r="2.65" fill="#4d515a"/>
<circle cx="560.1" cy="451.3" r="2.65" fill="#4d515a"/>
<circle cx="554.9" cy="452.0" r="2.65" fill="#4d515a"/>
<circle cx="566.6" cy="461.7" r="2.65" fill="#4d515a"/>
<circle cx="560.9" cy="456.5" r="2.65" fill="#4d515a"/>
<circle cx="568.8" cy="463.4" r="2.65" fill="#4d515a"/>
<circle cx="573.6" cy="464.7" r="2.65" fill="#4d515a"/>
<circle cx="571.1" cy="461.3" r="2.65" fill="#4d515a"/>
<circle cx="565.2" cy="455.6" r="2.65" fill="#4d515a"/>
<circle cx="565.2" cy="464.7" r="2.65" fill="#4d515a"/>
<circle cx="571.0" cy="462.3" r="2.65" fill="#4d515a"/>
<circle cx="554.1" cy="451.4" r="2.65" fill="#4d515a"/>
<circle cx="553.9" cy="446.9" r="2.65" fill="#4d515a"/>
<circle cx="557.5" cy="445.0" r="2.65" fill="#4d515a"/>
<circle cx="559.0" cy="455.3" r="2.65" fill="#4d515a"/>
<circle cx="572.5" cy="461.7" r="2.65" fill="#4d515a"/>
<circle cx="561.3" cy="454.2" r="2.65" fill="#4d515a"/>
<circle cx="558.7" cy="450.9" r="2.65" fill="#4d515a"/>
<circle cx="562.0" cy="452.6" r="2.65" fill="#4d515a"/>
<circle cx="567.9" cy="450.2" r="2.65" fill="#4d515a"/>
<circle cx="560.7" cy="449.9" r="2.65" fill="#4d515a"/>
<circle cx="567.3" cy="455.6" r="2.65" fill="#4d515a"/>
<circle cx="571.0" cy="465.3" r="2.65" fill="#4d515a"/>
<circle cx="570.4" cy="461.9" r="2.65" fill="#4d515a"/>
<circle cx="547.3" cy="440.7" r="2.65" fill="#4d515a"/>
<circle cx="564.5" cy="455.4" r="2.65" fill="#4d515a"/>
<circle cx="568.2" cy="459.9" r="2.65" fill="#4d515a"/>
<circle cx="550.4" cy="446.8" r="2.65" fill="#4d515a"/>
<circle cx="568.0" cy="454.8" r="2.65" fill="#4d515a"/>
<circle cx="555.3" cy="447.0" r="2.65" fill="#4d515a"/>
<circle cx="559.4" cy="457.4" r="2.65" fill="#4d515a"/>
<circle cx="573.5" cy="462.8" r="2.65" fill="#4d515a"/>
<circle cx="554.4" cy="443.5" r="2.65" fill="#4d515a"/>
<circle cx="555.7" cy="447.8" r="2.65" fill="#4d515a"/>
<circle cx="567.4" cy="461.0" r="2.65" fill="#4d515a"/>
<circle cx="565.6" cy="461.3" r="2.65" fill="#4d515a"/>
<circle cx="570.8" cy="464.8" r="2.65" fill="#4d515a"/>
<circle cx="559.5" cy="452.0" r="2.65" fill="#4d515a"/>
<circle cx="570.4" cy="465.3" r="2.65" fill="#4d515a"/>
<circle cx="554.1" cy="452.5" r="2.65" fill="#4d515a"/>
<circle cx="560.6" cy="453.9" r="2.65" fill="#4d515a"/>
<circle cx="555.3" cy="447.3" r="2.65" fill="#4d515a"/>
<circle cx="549.1" cy="444.1" r="2.65" fill="#4d515a"/>
<circle cx="564.4" cy="458.4" r="2.65" fill="#4d515a"/>
<circle cx="559.8" cy="456.6" r="2.65" fill="#4d515a"/>
<circle cx="557.9" cy="454.6" r="2.65" fill="#4d515a"/>
<circle cx="548.4" cy="444.2" r="2.65" fill="#4d515a"/>
<circle cx="554.8" cy="441.4" r="2.65" fill="#4d515a"/>
<circle cx="571.8" cy="463.9" r="2.65" fill="#4d515a"/>
<circle cx="546.9" cy="437.7" r="2.65" fill="#4d515a"/>
<circle cx="569.9" cy="461.9" r="2.65" fill="#4d515a"/>
<circle cx="568.1" cy="458.2" r="2.65" fill="#4d515a"/>
<circle cx="569.8" cy="456.7" r="2.65" fill="#4d515a"/>
<circle cx="576.0" cy="461.9" r="2.65" fill="#4d515a"/>
<circle cx="553.0" cy="449.7" r="2.65" fill="#4d515a"/>
<circle cx="558.0" cy="443.4" r="2.65" fill="#4d515a"/>
<circle cx="566.4" cy="455.3" r="2.65" fill="#4d515a"/>
<circle cx="564.9" cy="450.3" r="2.65" fill="#4d515a"/>
<circle cx="553.5" cy="446.1" r="2.65" fill="#4d515a"/>
<circle cx="547.3" cy="444.9" r="2.65" fill="#4d515a"/>
<circle cx="569.0" cy="462.4" r="2.65" fill="#4d515a"/>
<circle cx="566.3" cy="456.2" r="2.65" fill="#4d515a"/>
<circle cx="562.5" cy="458.9" r="2.65" fill="#4d515a"/>
<circle cx="565.3" cy="461.2" r="2.65" fill="#4d515a"/>
<circle cx="553.2" cy="448.2" r="2.65" fill="#4d515a"/>
<circle cx="566.7" cy="460.0" r="2.65" fill="#4d515a"/>
<circle cx="558.5" cy="451.6" r="2.65" fill="#4d515a"/>
<circle cx="549.7" cy="440.7" r="2.65" fill="#4d515a"/>
<circle cx="554.8" cy="448.9" r="2.65" fill="#4d515a"/>
<circle cx="548.5" cy="440.1" r="2.65" fill="#4d515a"/>
<circle cx="564.8" cy="461.0" r="2.65" fill="#4d515a"/>
<circle cx="546.6" cy="442.7" r="2.65" fill="#4d515a"/>
<circle cx="492.0" cy="388.5" r="2.65" fill="#4d515a"/>
<circle cx="496.3" cy="393.0" r="2.65" fill="#4d515a"/>
<circle cx="501.8" cy="402.8" r="2.65" fill="#4d515a"/>
<circle cx="498.5" cy="412.2" r="2.65" fill="#4d515a"/>
<circle cx="510.6" cy="412.2" r="2.65" fill="#4d515a"/>
<circle cx="514.5" cy="422.0" r="2.65" fill="#4d515a"/>
<circle cx="517.0" cy="389.6" r="2.65" fill="#4d515a"/>
<circle cx="523.7" cy="399.5" r="2.65" fill="#4d515a"/>
<circle cx="508.4" cy="382.0" r="2.65" fill="#4d515a"/>
<circle cx="439.3" cy="321.1" r="2.55" fill="#24583a"/>
<circle cx="447.9" cy="316.9" r="2.55" fill="#24583a"/>
<circle cx="438.9" cy="315.9" r="2.55" fill="#24583a"/>
<circle cx="436.9" cy="316.9" r="2.55" fill="#24583a"/>
<circle cx="446.2" cy="313.3" r="2.55" fill="#24583a"/>
<circle cx="444.8" cy="313.8" r="2.55" fill="#24583a"/>
<circle cx="440.3" cy="314.4" r="2.55" fill="#24583a"/>
<circle cx="435.1" cy="315.9" r="2.55" fill="#24583a"/>
<circle cx="436.1" cy="320.1" r="2.55" fill="#24583a"/>
<circle cx="441.5" cy="319.8" r="2.55" fill="#24583a"/>
<circle cx="435.0" cy="320.9" r="2.55" fill="#24583a"/>
<circle cx="436.1" cy="311.2" r="2.55" fill="#24583a"/>
<circle cx="425.4" cy="315.1" r="2.55" fill="#24583a"/>
<circle cx="449.9" cy="319.0" r="2.55" fill="#24583a"/>
<circle cx="427.1" cy="307.4" r="2.55" fill="#24583a"/>
<circle cx="439.7" cy="318.7" r="2.55" fill="#24583a"/>
<circle cx="447.8" cy="322.1" r="2.55" fill="#24583a"/>
<circle cx="442.3" cy="315.0" r="2.55" fill="#24583a"/>
<circle cx="416.4" cy="310.1" r="2.55" fill="#24583a"/>
<circle cx="432.8" cy="313.3" r="2.55" fill="#24583a"/>
<circle cx="452.6" cy="315.2" r="2.55" fill="#24583a"/>
<circle cx="437.5" cy="316.2" r="2.55" fill="#24583a"/>
<circle cx="433.8" cy="308.8" r="2.55" fill="#24583a"/>
<circle cx="452.6" cy="319.2" r="2.55" fill="#24583a"/>
<circle cx="436.0" cy="318.3" r="2.55" fill="#24583a"/>
<circle cx="437.5" cy="318.7" r="2.55" fill="#24583a"/>
<circle cx="422.6" cy="309.9" r="2.55" fill="#24583a"/>
<circle cx="458.3" cy="319.6" r="2.55" fill="#24583a"/>
<circle cx="419.5" cy="308.2" r="2.55" fill="#24583a"/>
<circle cx="450.6" cy="327.0" r="2.55" fill="#24583a"/>
<circle cx="432.5" cy="307.0" r="2.55" fill="#24583a"/>
<circle cx="417.3" cy="311.7" r="2.55" fill="#24583a"/>
<circle cx="456.3" cy="324.4" r="2.55" fill="#24583a"/>
<circle cx="445.5" cy="315.4" r="2.55" fill="#24583a"/>
<circle cx="444.5" cy="315.9" r="2.55" fill="#24583a"/>
<circle cx="442.7" cy="313.2" r="2.55" fill="#24583a"/>
<circle cx="435.9" cy="315.5" r="2.55" fill="#24583a"/>
<circle cx="447.2" cy="313.7" r="2.55" fill="#24583a"/>
<circle cx="458.3" cy="329.5" r="2.55" fill="#24583a"/>
<circle cx="441.1" cy="320.0" r="2.55" fill="#24583a"/>
<circle cx="468.1" cy="340.4" r="2.55" fill="#24583a"/>
<circle cx="484.2" cy="370.7" r="2.55" fill="#24583a"/>
<circle cx="472.2" cy="354.4" r="2.55" fill="#24583a"/>
<circle cx="451.6" cy="324.3" r="2.55" fill="#24583a"/>
<circle cx="469.6" cy="347.3" r="2.55" fill="#24583a"/>
<circle cx="484.6" cy="373.3" r="2.55" fill="#24583a"/>
<circle cx="465.4" cy="341.9" r="2.55" fill="#24583a"/>
<circle cx="454.1" cy="330.5" r="2.55" fill="#24583a"/>
<circle cx="484.2" cy="370.3" r="2.55" fill="#24583a"/>
<circle cx="465.9" cy="342.5" r="2.55" fill="#24583a"/>
<circle cx="459.5" cy="333.1" r="2.55" fill="#24583a"/>
<circle cx="462.9" cy="346.0" r="2.55" fill="#24583a"/>
<circle cx="484.6" cy="373.0" r="2.55" fill="#24583a"/>
<circle cx="452.4" cy="322.6" r="2.55" fill="#24583a"/>
<circle cx="457.5" cy="327.5" r="2.55" fill="#24583a"/>
<circle cx="477.2" cy="370.8" r="2.55" fill="#24583a"/>
<circle cx="457.6" cy="333.3" r="2.55" fill="#24583a"/>
<circle cx="470.5" cy="348.2" r="2.55" fill="#24583a"/>
<circle cx="467.4" cy="349.8" r="2.55" fill="#24583a"/>
<circle cx="472.5" cy="356.8" r="2.55" fill="#24583a"/>
<circle cx="476.9" cy="355.7" r="2.55" fill="#24583a"/>
<circle cx="474.6" cy="367.1" r="2.55" fill="#24583a"/>
<circle cx="457.8" cy="338.1" r="2.55" fill="#24583a"/>
<circle cx="471.1" cy="356.7" r="2.55" fill="#24583a"/>
<circle cx="455.3" cy="333.8" r="2.55" fill="#24583a"/>
<circle cx="450.5" cy="322.3" r="2.55" fill="#24583a"/>
<circle cx="476.3" cy="359.8" r="2.55" fill="#24583a"/>
<circle cx="466.4" cy="343.8" r="2.55" fill="#24583a"/>
<circle cx="457.4" cy="333.1" r="2.55" fill="#24583a"/>
<circle cx="476.5" cy="365.6" r="2.55" fill="#24583a"/>
<circle cx="465.8" cy="344.7" r="2.55" fill="#24583a"/>
<circle cx="479.4" cy="363.2" r="2.55" fill="#24583a"/>
<circle cx="471.5" cy="352.0" r="2.55" fill="#24583a"/>
<circle cx="470.9" cy="349.8" r="2.55" fill="#24583a"/>
<circle cx="453.3" cy="332.4" r="2.55" fill="#24583a"/>
<circle cx="468.6" cy="349.0" r="2.55" fill="#24583a"/>
<circle cx="470.2" cy="356.1" r="2.55" fill="#24583a"/>
<circle cx="456.7" cy="333.4" r="2.55" fill="#24583a"/>
<circle cx="476.4" cy="367.8" r="2.55" fill="#24583a"/>
<circle cx="479.3" cy="367.9" r="2.55" fill="#24583a"/>
<circle cx="477.0" cy="362.8" r="2.55" fill="#24583a"/>
<circle cx="459.7" cy="331.7" r="2.55" fill="#24583a"/>
<circle cx="475.0" cy="358.1" r="2.55" fill="#24583a"/>
<circle cx="458.6" cy="341.3" r="2.55" fill="#24583a"/>
<circle cx="479.4" cy="359.7" r="2.55" fill="#24583a"/>
<circle cx="485.2" cy="373.1" r="2.55" fill="#24583a"/>
<circle cx="462.6" cy="341.0" r="2.55" fill="#24583a"/>
<circle cx="479.9" cy="368.2" r="2.55" fill="#24583a"/>
<circle cx="453.0" cy="320.4" r="2.55" fill="#24583a"/>
<circle cx="476.8" cy="362.0" r="2.55" fill="#24583a"/>
<circle cx="459.7" cy="337.9" r="2.55" fill="#24583a"/>
<circle cx="465.1" cy="352.5" r="2.55" fill="#24583a"/>
<circle cx="476.3" cy="361.2" r="2.55" fill="#24583a"/>
<circle cx="476.2" cy="362.4" r="2.55" fill="#24583a"/>
<circle cx="457.5" cy="332.0" r="2.55" fill="#24583a"/>
<circle cx="458.8" cy="334.3" r="2.55" fill="#24583a"/>
<circle cx="472.4" cy="356.8" r="2.55" fill="#24583a"/>
<circle cx="468.1" cy="342.5" r="2.55" fill="#24583a"/>
<circle cx="475.6" cy="359.9" r="2.55" fill="#24583a"/>
<circle cx="469.5" cy="348.7" r="2.55" fill="#24583a"/>
<circle cx="470.5" cy="352.8" r="2.55" fill="#24583a"/>
<circle cx="462.0" cy="336.2" r="2.55" fill="#24583a"/>
<circle cx="460.0" cy="339.9" r="2.55" fill="#24583a"/>
<circle cx="473.7" cy="360.8" r="2.55" fill="#24583a"/>
<circle cx="468.0" cy="352.8" r="2.55" fill="#24583a"/>
<circle cx="450.9" cy="328.3" r="2.55" fill="#24583a"/>
<circle cx="475.0" cy="361.7" r="2.55" fill="#24583a"/>
<circle cx="457.8" cy="334.3" r="2.55" fill="#24583a"/>
<circle cx="468.1" cy="348.0" r="2.55" fill="#24583a"/>
<circle cx="477.5" cy="374.3" r="2.55" fill="#24583a"/>
<circle cx="459.6" cy="335.6" r="2.55" fill="#24583a"/>
<circle cx="472.4" cy="348.8" r="2.55" fill="#24583a"/>
<circle cx="453.6" cy="337.1" r="2.55" fill="#24583a"/>
<circle cx="452.1" cy="319.7" r="2.55" fill="#24583a"/>
<circle cx="461.8" cy="337.8" r="2.55" fill="#24583a"/>
<circle cx="463.4" cy="344.5" r="2.55" fill="#24583a"/>
<circle cx="476.5" cy="371.9" r="2.55" fill="#24583a"/>
<circle cx="459.9" cy="337.4" r="2.55" fill="#24583a"/>
<circle cx="449.1" cy="321.6" r="2.55" fill="#24583a"/>
<circle cx="458.2" cy="331.0" r="2.55" fill="#24583a"/>
<circle cx="454.7" cy="326.0" r="2.55" fill="#24583a"/>
<circle cx="455.3" cy="330.4" r="2.55" fill="#24583a"/>
<circle cx="460.5" cy="332.5" r="2.55" fill="#24583a"/>
<circle cx="461.5" cy="336.1" r="2.55" fill="#24583a"/>
<circle cx="467.4" cy="349.2" r="2.55" fill="#24583a"/>
<circle cx="465.1" cy="336.8" r="2.55" fill="#24583a"/>
<circle cx="480.5" cy="370.9" r="2.55" fill="#24583a"/>
<circle cx="468.8" cy="344.5" r="2.55" fill="#24583a"/>
<circle cx="458.3" cy="339.9" r="2.55" fill="#24583a"/>
<circle cx="467.4" cy="355.5" r="2.55" fill="#24583a"/>
<circle cx="449.4" cy="327.9" r="2.55" fill="#24583a"/>
<circle cx="453.1" cy="320.6" r="2.55" fill="#24583a"/>
<circle cx="473.6" cy="358.7" r="2.55" fill="#24583a"/>
<circle cx="475.7" cy="367.5" r="2.55" fill="#24583a"/>
<circle cx="465.1" cy="337.3" r="2.55" fill="#24583a"/>
<circle cx="456.5" cy="330.6" r="2.55" fill="#24583a"/>
<circle cx="476.7" cy="351.1" r="2.55" fill="#24583a"/>
<circle cx="453.6" cy="332.0" r="2.55" fill="#24583a"/>
<circle cx="472.5" cy="360.1" r="2.55" fill="#24583a"/>
<circle cx="453.6" cy="326.7" r="2.55" fill="#24583a"/>
<circle cx="456.4" cy="327.4" r="2.55" fill="#24583a"/>
<circle cx="477.3" cy="363.6" r="2.55" fill="#24583a"/>
<circle cx="456.3" cy="323.4" r="2.55" fill="#24583a"/>
<circle cx="457.3" cy="325.1" r="2.55" fill="#24583a"/>
<circle cx="457.2" cy="332.1" r="2.55" fill="#24583a"/>
<circle cx="484.1" cy="369.8" r="2.55" fill="#24583a"/>
<circle cx="465.8" cy="335.9" r="2.55" fill="#24583a"/>
<circle cx="458.5" cy="340.9" r="2.55" fill="#24583a"/>
<circle cx="481.8" cy="373.8" r="2.55" fill="#24583a"/>
<circle cx="469.5" cy="349.5" r="2.55" fill="#24583a"/>
<circle cx="478.9" cy="373.7" r="2.55" fill="#24583a"/>
<circle cx="473.5" cy="364.3" r="2.55" fill="#24583a"/>
<circle cx="476.3" cy="360.7" r="2.55" fill="#24583a"/>
<circle cx="483.2" cy="372.4" r="2.55" fill="#24583a"/>
<circle cx="452.8" cy="326.1" r="2.55" fill="#24583a"/>
<circle cx="464.1" cy="335.4" r="2.55" fill="#24583a"/>
<circle cx="476.3" cy="355.8" r="2.55" fill="#24583a"/>
<circle cx="449.6" cy="323.6" r="2.55" fill="#24583a"/>
<circle cx="484.6" cy="369.6" r="2.55" fill="#24583a"/>
<circle cx="463.5" cy="347.5" r="2.55" fill="#24583a"/>
<circle cx="478.5" cy="364.2" r="2.55" fill="#24583a"/>
<circle cx="448.3" cy="323.0" r="2.55" fill="#24583a"/>
<circle cx="462.9" cy="349.2" r="2.55" fill="#24583a"/>
<circle cx="471.0" cy="358.5" r="2.55" fill="#24583a"/>
<circle cx="459.4" cy="346.5" r="2.55" fill="#24583a"/>
<circle cx="483.4" cy="372.1" r="2.55" fill="#24583a"/>
<circle cx="453.8" cy="323.9" r="2.55" fill="#24583a"/>
<circle cx="473.9" cy="351.3" r="2.55" fill="#24583a"/>
<circle cx="448.5" cy="322.1" r="2.55" fill="#24583a"/>
<circle cx="471.3" cy="352.1" r="2.55" fill="#24583a"/>
<circle cx="477.8" cy="364.8" r="2.55" fill="#24583a"/>
<circle cx="480.9" cy="371.1" r="2.55" fill="#24583a"/>
<circle cx="458.1" cy="335.6" r="2.55" fill="#24583a"/>
<circle cx="483.5" cy="374.9" r="2.55" fill="#24583a"/>
<circle cx="474.9" cy="360.9" r="2.55" fill="#24583a"/>
<circle cx="479.4" cy="370.1" r="2.55" fill="#24583a"/>
<circle cx="473.6" cy="356.0" r="2.55" fill="#24583a"/>
<circle cx="464.6" cy="342.4" r="2.55" fill="#24583a"/>
<circle cx="480.0" cy="373.4" r="2.55" fill="#24583a"/>
<circle cx="451.9" cy="323.2" r="2.55" fill="#24583a"/>
<circle cx="479.7" cy="377.5" r="2.55" fill="#24583a"/>
<circle cx="475.4" cy="368.3" r="2.55" fill="#24583a"/>
<circle cx="471.7" cy="362.2" r="2.55" fill="#24583a"/>
<circle cx="465.9" cy="347.6" r="2.55" fill="#24583a"/>
<circle cx="465.1" cy="348.0" r="2.55" fill="#24583a"/>
<circle cx="475.3" cy="365.4" r="2.55" fill="#24583a"/>
<circle cx="452.9" cy="328.2" r="2.55" fill="#24583a"/>
<circle cx="460.6" cy="333.7" r="2.55" fill="#24583a"/>
<circle cx="461.1" cy="331.3" r="2.55" fill="#24583a"/>
<circle cx="468.6" cy="351.8" r="2.55" fill="#24583a"/>
<circle cx="482.8" cy="367.4" r="2.55" fill="#24583a"/>
<circle cx="483.8" cy="374.3" r="2.55" fill="#24583a"/>
<circle cx="455.4" cy="333.0" r="2.55" fill="#24583a"/>
<circle cx="460.5" cy="337.3" r="2.55" fill="#24583a"/>
<circle cx="454.7" cy="326.5" r="2.55" fill="#24583a"/>
<circle cx="481.0" cy="370.8" r="2.55" fill="#24583a"/>
<circle cx="464.1" cy="348.1" r="2.55" fill="#24583a"/>
<circle cx="477.1" cy="358.7" r="2.55" fill="#24583a"/>
<circle cx="476.9" cy="361.0" r="2.55" fill="#24583a"/>
<circle cx="453.7" cy="333.3" r="2.55" fill="#24583a"/>
<circle cx="471.9" cy="348.6" r="2.55" fill="#24583a"/>
<circle cx="457.8" cy="327.9" r="2.55" fill="#24583a"/>
<circle cx="460.0" cy="340.0" r="2.55" fill="#24583a"/>
<circle cx="486.7" cy="371.7" r="2.55" fill="#24583a"/>
<circle cx="453.8" cy="326.7" r="2.55" fill="#24583a"/>
<circle cx="473.6" cy="360.4" r="2.55" fill="#24583a"/>
<circle cx="477.6" cy="359.6" r="2.55" fill="#24583a"/>
<circle cx="470.5" cy="346.5" r="2.55" fill="#24583a"/>
<circle cx="466.4" cy="352.6" r="2.55" fill="#24583a"/>
<circle cx="473.8" cy="355.2" r="2.55" fill="#24583a"/>
<circle cx="473.6" cy="350.2" r="2.55" fill="#24583a"/>
<circle cx="469.3" cy="351.6" r="2.55" fill="#24583a"/>
<circle cx="456.4" cy="325.9" r="2.55" fill="#24583a"/>
<circle cx="463.7" cy="344.4" r="2.55" fill="#24583a"/>
<circle cx="470.4" cy="350.0" r="2.55" fill="#24583a"/>
<circle cx="463.4" cy="349.3" r="2.55" fill="#24583a"/>
<circle cx="463.4" cy="346.8" r="2.55" fill="#24583a"/>
<circle cx="457.6" cy="334.4" r="2.55" fill="#24583a"/>
<circle cx="475.0" cy="355.2" r="2.55" fill="#24583a"/>
<circle cx="467.2" cy="354.4" r="2.55" fill="#24583a"/>
<circle cx="464.7" cy="345.8" r="2.55" fill="#24583a"/>
<circle cx="474.8" cy="362.3" r="2.55" fill="#24583a"/>
<circle cx="477.6" cy="363.5" r="2.55" fill="#24583a"/>
<circle cx="460.2" cy="346.8" r="2.55" fill="#24583a"/>
<circle cx="453.3" cy="339.1" r="2.55" fill="#24583a"/>
<circle cx="466.0" cy="339.1" r="2.55" fill="#24583a"/>
<circle cx="464.3" cy="340.9" r="2.55" fill="#24583a"/>
<circle cx="472.5" cy="345.3" r="2.55" fill="#24583a"/>
<circle cx="464.5" cy="346.8" r="2.55" fill="#24583a"/>
<circle cx="469.2" cy="365.5" r="2.55" fill="#24583a"/>
<circle cx="471.6" cy="363.7" r="2.55" fill="#24583a"/>
<circle cx="474.7" cy="367.5" r="2.55" fill="#24583a"/>
<circle cx="473.8" cy="355.7" r="2.55" fill="#24583a"/>
<circle cx="457.8" cy="336.2" r="2.55" fill="#24583a"/>
<circle cx="466.8" cy="361.0" r="2.55" fill="#24583a"/>
<circle cx="468.4" cy="357.0" r="2.55" fill="#24583a"/>
<circle cx="460.9" cy="353.1" r="2.55" fill="#24583a"/>
<circle cx="474.8" cy="350.5" r="2.55" fill="#24583a"/>
<circle cx="462.1" cy="335.2" r="2.55" fill="#24583a"/>
<circle cx="464.1" cy="340.8" r="2.55" fill="#24583a"/>
<circle cx="476.7" cy="363.6" r="2.55" fill="#24583a"/>
<circle cx="463.5" cy="340.2" r="2.55" fill="#24583a"/>
<circle cx="466.9" cy="343.2" r="2.55" fill="#24583a"/>
<circle cx="467.5" cy="347.2" r="2.55" fill="#24583a"/>
<circle cx="471.9" cy="361.5" r="2.55" fill="#24583a"/>
<circle cx="459.1" cy="347.8" r="2.55" fill="#24583a"/>
<circle cx="474.0" cy="366.1" r="2.55" fill="#24583a"/>
<circle cx="470.6" cy="352.8" r="2.55" fill="#24583a"/>
<circle cx="463.3" cy="335.0" r="2.55" fill="#24583a"/>
<circle cx="467.9" cy="356.1" r="2.55" fill="#24583a"/>
<circle cx="462.5" cy="346.1" r="2.55" fill="#24583a"/>
<circle cx="468.4" cy="352.2" r="2.55" fill="#24583a"/>
<circle cx="462.2" cy="338.4" r="2.55" fill="#24583a"/>
<circle cx="471.6" cy="365.7" r="2.55" fill="#24583a"/>
<circle cx="468.0" cy="350.4" r="2.55" fill="#24583a"/>
<circle cx="458.3" cy="345.7" r="2.55" fill="#24583a"/>
<circle cx="472.0" cy="360.0" r="2.55" fill="#24583a"/>
<circle cx="464.0" cy="349.5" r="2.55" fill="#24583a"/>
<circle cx="475.0" cy="363.8" r="2.55" fill="#24583a"/>
<circle cx="457.9" cy="339.5" r="2.55" fill="#24583a"/>
<circle cx="463.1" cy="339.8" r="2.55" fill="#24583a"/>
<circle cx="470.0" cy="360.2" r="2.55" fill="#24583a"/>
<circle cx="468.8" cy="344.7" r="2.55" fill="#24583a"/>
<circle cx="472.7" cy="359.1" r="2.55" fill="#24583a"/>
<circle cx="482.7" cy="358.5" r="2.55" fill="#24583a"/>
<circle cx="458.9" cy="344.3" r="2.55" fill="#24583a"/>
<circle cx="482.5" cy="362.0" r="2.55" fill="#24583a"/>
<circle cx="465.8" cy="345.7" r="2.55" fill="#24583a"/>
<circle cx="458.1" cy="345.7" r="2.55" fill="#24583a"/>
<circle cx="459.3" cy="348.9" r="2.55" fill="#24583a"/>
<circle cx="475.6" cy="353.8" r="2.55" fill="#24583a"/>
<circle cx="460.3" cy="341.3" r="2.55" fill="#24583a"/>
<circle cx="463.3" cy="338.0" r="2.55" fill="#24583a"/>
<circle cx="464.1" cy="354.2" r="2.55" fill="#24583a"/>
<circle cx="457.9" cy="333.5" r="2.55" fill="#24583a"/>
<circle cx="461.9" cy="333.9" r="2.55" fill="#24583a"/>
<circle cx="461.0" cy="343.3" r="2.55" fill="#24583a"/>
<circle cx="462.5" cy="355.6" r="2.55" fill="#24583a"/>
<circle cx="463.8" cy="344.5" r="2.55" fill="#24583a"/>
<circle cx="460.1" cy="344.8" r="2.55" fill="#24583a"/>
<circle cx="462.8" cy="346.1" r="2.55" fill="#24583a"/>
<circle cx="477.4" cy="352.6" r="2.55" fill="#24583a"/>
<circle cx="476.5" cy="361.7" r="2.55" fill="#24583a"/>
<circle cx="459.3" cy="334.5" r="2.55" fill="#24583a"/>
<circle cx="460.7" cy="339.1" r="2.55" fill="#24583a"/>
<circle cx="470.2" cy="363.0" r="2.55" fill="#24583a"/>
<circle cx="471.6" cy="351.3" r="2.55" fill="#24583a"/>
<circle cx="476.6" cy="366.1" r="2.55" fill="#24583a"/>
<circle cx="473.4" cy="357.7" r="2.55" fill="#24583a"/>
<circle cx="476.8" cy="366.0" r="2.55" fill="#24583a"/>
<circle cx="461.4" cy="342.8" r="2.55" fill="#24583a"/>
<circle cx="472.1" cy="354.0" r="2.55" fill="#24583a"/>
<circle cx="462.3" cy="346.8" r="2.55" fill="#24583a"/>
<circle cx="460.9" cy="336.0" r="2.55" fill="#24583a"/>
<circle cx="458.0" cy="342.5" r="2.55" fill="#24583a"/>
<circle cx="479.2" cy="348.9" r="2.55" fill="#24583a"/>
<circle cx="471.9" cy="355.5" r="2.55" fill="#24583a"/>
<circle cx="456.2" cy="338.5" r="2.55" fill="#24583a"/>
<circle cx="473.2" cy="368.4" r="2.55" fill="#24583a"/>
<circle cx="463.1" cy="346.0" r="2.55" fill="#24583a"/>
<circle cx="461.7" cy="321.4" r="2.55" fill="#24583a"/>
<circle cx="450.5" cy="334.6" r="2.55" fill="#24583a"/>
<circle cx="455.7" cy="323.5" r="2.55" fill="#24583a"/>
<circle cx="470.8" cy="345.4" r="2.55" fill="#24583a"/>
<circle cx="450.2" cy="328.5" r="2.55" fill="#24583a"/>
<circle cx="453.1" cy="326.1" r="2.55" fill="#24583a"/>
<circle cx="459.6" cy="328.0" r="2.55" fill="#24583a"/>
<circle cx="468.3" cy="351.1" r="2.55" fill="#24583a"/>
<circle cx="471.2" cy="365.2" r="2.55" fill="#24583a"/>
<circle cx="449.0" cy="316.6" r="2.55" fill="#24583a"/>
<circle cx="475.8" cy="371.8" r="2.55" fill="#24583a"/>
<circle cx="449.7" cy="325.5" r="2.55" fill="#24583a"/>
<circle cx="469.4" cy="354.9" r="2.55" fill="#24583a"/>
<circle cx="459.0" cy="333.3" r="2.55" fill="#24583a"/>
<circle cx="481.4" cy="369.9" r="2.55" fill="#24583a"/>
<circle cx="475.5" cy="358.6" r="2.55" fill="#24583a"/>
<circle cx="480.4" cy="365.3" r="2.55" fill="#24583a"/>
<circle cx="470.9" cy="359.1" r="2.55" fill="#24583a"/>
<circle cx="455.9" cy="337.7" r="2.55" fill="#24583a"/>
<circle cx="459.3" cy="343.1" r="2.55" fill="#24583a"/>
<circle cx="453.8" cy="321.2" r="2.55" fill="#24583a"/>
<circle cx="463.9" cy="353.9" r="2.55" fill="#24583a"/>
<circle cx="460.8" cy="342.2" r="2.55" fill="#24583a"/>
<circle cx="460.0" cy="335.9" r="2.55" fill="#24583a"/>
<circle cx="477.4" cy="380.3" r="2.55" fill="#24583a"/>
<circle cx="484.6" cy="359.8" r="2.55" fill="#24583a"/>
<circle cx="465.6" cy="351.2" r="2.55" fill="#24583a"/>
<circle cx="454.8" cy="319.6" r="2.55" fill="#24583a"/>
<circle cx="447.4" cy="337.5" r="2.55" fill="#24583a"/>
<circle cx="452.5" cy="340.2" r="2.55" fill="#24583a"/>
<circle cx="463.6" cy="340.7" r="2.55" fill="#24583a"/>
<circle cx="474.9" cy="360.8" r="2.55" fill="#24583a"/>
<circle cx="475.5" cy="368.7" r="2.55" fill="#24583a"/>
<circle cx="466.7" cy="330.2" r="2.55" fill="#24583a"/>
<circle cx="449.7" cy="325.7" r="2.55" fill="#24583a"/>
<circle cx="467.0" cy="335.1" r="2.55" fill="#24583a"/>
<circle cx="439.0" cy="346.0" r="2.55" fill="#24583a"/>
<circle cx="442.9" cy="344.7" r="2.55" fill="#24583a"/>
<circle cx="446.9" cy="342.1" r="2.55" fill="#24583a"/>
<circle cx="448.2" cy="348.6" r="2.55" fill="#24583a"/>
<circle cx="441.6" cy="351.2" r="2.55" fill="#24583a"/>
<circle cx="446.9" cy="362.9" r="2.55" fill="#24583a"/>
<circle cx="454.7" cy="364.2" r="2.55" fill="#24583a"/>
<circle cx="459.9" cy="370.7" r="2.55" fill="#24583a"/>
<circle cx="466.4" cy="368.1" r="2.55" fill="#24583a"/>
<circle cx="462.5" cy="316.0" r="2.55" fill="#24583a"/>
<circle cx="470.3" cy="318.6" r="2.55" fill="#24583a"/>
<circle cx="472.9" cy="316.0" r="2.55" fill="#24583a"/>
<circle cx="445.5" cy="303.0" r="2.55" fill="#24583a"/>
<circle cx="448.2" cy="306.9" r="2.55" fill="#24583a"/>
<circle cx="484.6" cy="348.6" r="2.55" fill="#24583a"/>
<circle cx="485.9" cy="356.4" r="2.55" fill="#24583a"/>
<circle cx="491.1" cy="365.5" r="2.55" fill="#24583a"/>
<circle cx="493.7" cy="364.2" r="2.55" fill="#24583a"/>
<circle cx="487.2" cy="369.4" r="2.55" fill="#24583a"/>
<circle cx="488.5" cy="379.8" r="2.55" fill="#24583a"/>
<circle cx="484.6" cy="386.3" r="2.55" fill="#24583a"/>
<circle cx="478.1" cy="383.7" r="2.55" fill="#24583a"/>
<circle cx="456.0" cy="336.9" r="2.55" fill="#24583a"/>
<circle cx="453.4" cy="331.6" r="2.55" fill="#24583a"/>
<circle cx="370.8" cy="280.5" r="2.45" fill="#c8962f"/>
<circle cx="377.0" cy="282.8" r="2.45" fill="#c8962f"/>
<circle cx="369.2" cy="286.7" r="2.45" fill="#c8962f"/>
<circle cx="367.3" cy="289.6" r="2.45" fill="#c8962f"/>
<circle cx="378.6" cy="284.8" r="2.45" fill="#c8962f"/>
<circle cx="336.0" cy="291.2" r="2.45" fill="#c8962f"/>
<circle cx="355.9" cy="297.5" r="2.45" fill="#c8962f"/>
<circle cx="362.4" cy="298.4" r="2.45" fill="#c8962f"/>
<circle cx="352.6" cy="301.4" r="2.45" fill="#c8962f"/>
<circle cx="363.4" cy="303.3" r="2.45" fill="#c8962f"/>
<circle cx="370.2" cy="302.3" r="2.45" fill="#c8962f"/>
<circle cx="374.1" cy="306.2" r="2.45" fill="#c8962f"/>
<circle cx="349.7" cy="306.2" r="2.45" fill="#c8962f"/>
<circle cx="346.8" cy="307.2" r="2.45" fill="#c8962f"/>
<circle cx="326.2" cy="316.0" r="2.45" fill="#c8962f"/>
<circle cx="329.2" cy="313.1" r="2.45" fill="#c8962f"/>
<circle cx="332.1" cy="310.2" r="2.45" fill="#c8962f"/>
<circle cx="335.0" cy="308.2" r="2.45" fill="#c8962f"/>
<circle cx="338.0" cy="306.2" r="2.45" fill="#c8962f"/>
<circle cx="340.9" cy="305.9" r="2.45" fill="#c8962f"/>
<circle cx="343.8" cy="305.7" r="2.45" fill="#c8962f"/>
<circle cx="346.8" cy="306.2" r="2.45" fill="#c8962f"/>
<circle cx="328.2" cy="318.9" r="2.45" fill="#c8962f"/>
<circle cx="331.1" cy="316.0" r="2.45" fill="#c8962f"/>
<circle cx="334.1" cy="314.1" r="2.45" fill="#c8962f"/>
<circle cx="337.0" cy="312.1" r="2.45" fill="#c8962f"/>
<circle cx="339.9" cy="310.2" r="2.45" fill="#c8962f"/>
<circle cx="342.9" cy="309.2" r="2.45" fill="#c8962f"/>
<circle cx="330.2" cy="320.9" r="2.45" fill="#c8962f"/>
<circle cx="333.1" cy="318.9" r="2.45" fill="#c8962f"/>
<circle cx="336.0" cy="317.0" r="2.45" fill="#c8962f"/>
<circle cx="338.9" cy="314.1" r="2.45" fill="#c8962f"/>
<circle cx="327.2" cy="322.9" r="2.45" fill="#c8962f"/>
<circle cx="330.2" cy="324.8" r="2.45" fill="#c8962f"/>
<circle cx="334.1" cy="321.9" r="2.45" fill="#c8962f"/>
<circle cx="337.0" cy="319.9" r="2.45" fill="#c8962f"/>
<circle cx="339.5" cy="318.4" r="2.45" fill="#c8962f"/>
<circle cx="359.5" cy="312.1" r="2.45" fill="#c8962f"/>
<circle cx="355.5" cy="315.0" r="2.45" fill="#c8962f"/>
<circle cx="362.4" cy="314.1" r="2.45" fill="#c8962f"/>
<circle cx="367.7" cy="316.0" r="2.45" fill="#c8962f"/>
<circle cx="367.3" cy="322.9" r="2.45" fill="#c8962f"/>
<circle cx="357.5" cy="321.9" r="2.45" fill="#c8962f"/>
<circle cx="354.6" cy="323.8" r="2.45" fill="#c8962f"/>
<circle cx="351.6" cy="324.8" r="2.45" fill="#c8962f"/>
<circle cx="348.7" cy="323.8" r="2.45" fill="#c8962f"/>
<circle cx="345.8" cy="322.9" r="2.45" fill="#c8962f"/>
<circle cx="343.8" cy="325.8" r="2.45" fill="#c8962f"/>
<circle cx="340.9" cy="327.7" r="2.45" fill="#c8962f"/>
<circle cx="338.0" cy="329.7" r="2.45" fill="#c8962f"/>
<circle cx="336.0" cy="331.6" r="2.45" fill="#c8962f"/>
<circle cx="341.9" cy="331.6" r="2.45" fill="#c8962f"/>
<circle cx="344.8" cy="329.7" r="2.45" fill="#c8962f"/>
<circle cx="347.7" cy="330.7" r="2.45" fill="#c8962f"/>
<circle cx="350.7" cy="329.7" r="2.45" fill="#c8962f"/>
<circle cx="353.6" cy="328.7" r="2.45" fill="#c8962f"/>
<circle cx="356.5" cy="326.8" r="2.45" fill="#c8962f"/>
<circle cx="351.6" cy="333.6" r="2.45" fill="#c8962f"/>
<circle cx="354.6" cy="332.6" r="2.45" fill="#c8962f"/>
<circle cx="357.5" cy="331.6" r="2.45" fill="#c8962f"/>
<circle cx="348.7" cy="335.5" r="2.45" fill="#c8962f"/>
<circle cx="352.6" cy="337.1" r="2.45" fill="#c8962f"/>
<circle cx="340.9" cy="334.6" r="2.45" fill="#c8962f"/>
<circle cx="312.6" cy="328.7" r="2.45" fill="#c8962f"/>
<circle cx="315.5" cy="326.8" r="2.45" fill="#c8962f"/>
<circle cx="318.4" cy="325.4" r="2.45" fill="#c8962f"/>
<circle cx="321.4" cy="324.8" r="2.45" fill="#c8962f"/>
<circle cx="324.3" cy="323.8" r="2.45" fill="#c8962f"/>
<circle cx="314.5" cy="331.6" r="2.45" fill="#c8962f"/>
<circle cx="317.5" cy="330.7" r="2.45" fill="#c8962f"/>
<circle cx="320.4" cy="329.7" r="2.45" fill="#c8962f"/>
<circle cx="323.3" cy="328.7" r="2.45" fill="#c8962f"/>
<circle cx="326.2" cy="327.7" r="2.45" fill="#c8962f"/>
<circle cx="316.5" cy="334.6" r="2.45" fill="#c8962f"/>
<circle cx="319.4" cy="333.6" r="2.45" fill="#c8962f"/>
<circle cx="322.3" cy="332.6" r="2.45" fill="#c8962f"/>
<circle cx="325.3" cy="331.6" r="2.45" fill="#c8962f"/>
<circle cx="328.2" cy="333.6" r="2.45" fill="#c8962f"/>
<circle cx="331.1" cy="336.5" r="2.45" fill="#c8962f"/>
<circle cx="332.1" cy="339.5" r="2.45" fill="#c8962f"/>
<circle cx="329.2" cy="340.4" r="2.45" fill="#c8962f"/>
<circle cx="326.2" cy="339.5" r="2.45" fill="#c8962f"/>
<circle cx="323.3" cy="338.5" r="2.45" fill="#c8962f"/>
<circle cx="320.4" cy="337.5" r="2.45" fill="#c8962f"/>
<circle cx="318.4" cy="340.4" r="2.45" fill="#c8962f"/>
<circle cx="321.4" cy="342.4" r="2.45" fill="#c8962f"/>
<circle cx="324.3" cy="343.4" r="2.45" fill="#c8962f"/>
<circle cx="327.2" cy="344.3" r="2.45" fill="#c8962f"/>
<circle cx="330.2" cy="343.4" r="2.45" fill="#c8962f"/>
<circle cx="324.3" cy="347.3" r="2.45" fill="#c8962f"/>
<circle cx="327.2" cy="349.2" r="2.45" fill="#c8962f"/>
<circle cx="329.2" cy="347.3" r="2.45" fill="#c8962f"/>
<circle cx="326.2" cy="352.1" r="2.45" fill="#c8962f"/>
<circle cx="314.5" cy="345.3" r="2.45" fill="#c8962f"/>
<circle cx="312.6" cy="347.3" r="2.45" fill="#c8962f"/>
<circle cx="310.6" cy="348.2" r="2.45" fill="#c8962f"/>
<circle cx="314.5" cy="350.2" r="2.45" fill="#c8962f"/>
<circle cx="316.5" cy="348.2" r="2.45" fill="#c8962f"/>
<circle cx="306.7" cy="353.1" r="2.45" fill="#c8962f"/>
<circle cx="304.8" cy="355.1" r="2.45" fill="#c8962f"/>
<circle cx="328.2" cy="327.3" r="2.45" fill="#c8962f"/>
<circle cx="332.1" cy="326.2" r="2.45" fill="#c8962f"/>
<circle cx="322.3" cy="335.5" r="2.45" fill="#c8962f"/>
<circle cx="325.3" cy="335.9" r="2.45" fill="#c8962f"/>
<circle cx="328.2" cy="337.1" r="2.45" fill="#c8962f"/>
<circle cx="319.4" cy="327.3" r="2.45" fill="#c8962f"/>
<circle cx="341.9" cy="307.2" r="2.45" fill="#c8962f"/>
<circle cx="334.1" cy="311.1" r="2.45" fill="#c8962f"/>
<circle cx="324.3" cy="320.3" r="2.45" fill="#c8962f"/>
<circle cx="353.6" cy="326.2" r="2.45" fill="#c8962f"/>
<circle cx="346.2" cy="327.3" r="2.45" fill="#c8962f"/>
<circle cx="318.0" cy="343.4" r="2.45" fill="#c8962f"/>
<circle cx="322.0" cy="345.7" r="2.45" fill="#c8962f"/>
<circle cx="346.8" cy="341.4" r="2.65" fill="#8a6a2c"/>
  </g>
  <!-- arrows -->
  <g stroke="#111" stroke-width="2" fill="#111" stroke-linecap="butt">
    <line x1="281.2" y1="250.6" x2="319.2" y2="295.3" stroke-width="2.6"/>
    <path d="M326.6 304.0 L311.7 298.3 L319.2 295.3 L323.3 288.4 Z" stroke="none"/>
    <line x1="507.7" y1="296.6" x2="484.3" y2="323.2" stroke-width="2.6"/>
    <path d="M476.7 331.7 L480.3 316.2 L484.3 323.2 L491.7 326.2 Z" stroke="none"/>
  </g>
  <!-- legend -->
  <rect x="547.5" y="94.5" width="154" height="79" fill="#f2f3f2" stroke="#828282" stroke-width="1"/>
  <circle cx="557.9" cy="123.9" r="4.7" fill="#d29a3a"/>
  <circle cx="557.9" cy="140.4" r="4.7" fill="#24583a"/>
  <circle cx="557.9" cy="157.7" r="4.7" fill="#555962"/>
  <g>
<text x="78.20" y="27.60" font-family="'Liberation Sans', sans-serif" font-size="34.5" font-weight="bold" fill="#0a0a0a" stroke="#0a0a0a" stroke-width="0.5" textLength="341.40" lengthAdjust="spacingAndGlyphs" xml:space="preserve">Aislamiento genético:</text>
<text x="428.10" y="27.60" font-family="'Liberation Sans', sans-serif" font-size="34.5" font-weight="bold" fill="#0a0a0a" stroke="#0a0a0a" stroke-width="0.5" textLength="261.90" lengthAdjust="spacingAndGlyphs" xml:space="preserve">Una isla evolutiva</text>
<text x="77.70" y="63.10" font-family="'Liberation Sans', sans-serif" font-size="34.5" font-weight="bold" fill="#0a0a0a" stroke="#0a0a0a" stroke-width="0.5" textLength="388.30" lengthAdjust="spacingAndGlyphs" xml:space="preserve">en el continente europeo.</text>
<text x="102.00" y="121.30" font-family="'Liberation Sans', sans-serif" font-size="13.9" font-weight="normal" fill="#555" textLength="27.20" lengthAdjust="spacingAndGlyphs" xml:space="preserve">0.06</text>
<text x="102.00" y="207.50" font-family="'Liberation Sans', sans-serif" font-size="13.9" font-weight="normal" fill="#555" textLength="27.20" lengthAdjust="spacingAndGlyphs" xml:space="preserve">0.03</text>
<text x="102.00" y="293.70" font-family="'Liberation Sans', sans-serif" font-size="13.9" font-weight="normal" fill="#555" textLength="27.20" lengthAdjust="spacingAndGlyphs" xml:space="preserve">0.00</text>
<text x="93.60" y="380.40" font-family="'Liberation Sans', sans-serif" font-size="13.9" font-weight="normal" fill="#555" textLength="35.20" lengthAdjust="spacingAndGlyphs" xml:space="preserve">−0.03</text>
<text x="93.60" y="466.60" font-family="'Liberation Sans', sans-serif" font-size="13.9" font-weight="normal" fill="#555" textLength="35.20" lengthAdjust="spacingAndGlyphs" xml:space="preserve">−0.06</text>
<text x="552.40" y="110.90" font-family="'Liberation Sans', sans-serif" font-size="14.2" font-weight="normal" fill="#222" textLength="63.80" lengthAdjust="spacingAndGlyphs" xml:space="preserve">Población</text>
<text x="567.90" y="127.90" font-family="'Liberation Sans', sans-serif" font-size="12.6" font-weight="normal" fill="#1a1a1a" textLength="128.70" lengthAdjust="spacingAndGlyphs" xml:space="preserve">Planta Nuclear (CNPP)</text>
<text x="568.30" y="144.40" font-family="'Liberation Sans', sans-serif" font-size="12.6" font-weight="normal" fill="#1a1a1a" textLength="114.70" lengthAdjust="spacingAndGlyphs" xml:space="preserve">Ciudad de Chernóbil</text>
<text x="567.90" y="161.70" font-family="'Liberation Sans', sans-serif" font-size="12.6" font-weight="normal" fill="#1a1a1a" textLength="113.50" lengthAdjust="spacingAndGlyphs" xml:space="preserve">Raza pura/Vida libre</text>
<text x="181.40" y="207.00" font-family="'Liberation Sans', sans-serif" font-size="16.9" font-weight="bold" fill="#111" stroke="#111" stroke-width="0.25" textLength="169.00" lengthAdjust="spacingAndGlyphs" xml:space="preserve">Aislamiento Genético:</text>
<text x="183.80" y="224.50" font-family="'Liberation Sans', sans-serif" font-size="16.5" font-weight="normal" fill="#111" stroke="#111" stroke-width="0.2" textLength="161.20" lengthAdjust="spacingAndGlyphs" xml:space="preserve">Población de la Planta</text>
<text x="208.00" y="241.80" font-family="'Liberation Sans', sans-serif" font-size="16.5" font-weight="normal" fill="#111" stroke="#111" stroke-width="0.2" textLength="115.90" lengthAdjust="spacingAndGlyphs" xml:space="preserve">Nuclear (CNPP)</text>
<text x="512.00" y="278.20" font-family="'Liberation Sans', sans-serif" font-size="16.9" font-weight="bold" fill="#111" stroke="#111" stroke-width="0.25" textLength="154.00" lengthAdjust="spacingAndGlyphs" xml:space="preserve">Chernobyl City dogs</text>
<text x="511.90" y="296.30" font-family="'Liberation Sans', sans-serif" font-size="16.5" font-weight="normal" fill="#111" stroke="#111" stroke-width="0.2" textLength="128.70" lengthAdjust="spacingAndGlyphs" xml:space="preserve">(with Deep Forest</text>
<text x="512.00" y="313.90" font-family="'Liberation Sans', sans-serif" font-size="16.5" font-weight="normal" fill="#111" stroke="#111" stroke-width="0.2" textLength="142.40" lengthAdjust="spacingAndGlyphs" xml:space="preserve">and Caution Ochre)</text>
<text x="767.20" y="108.90" font-family="'Liberation Sans', sans-serif" font-size="18.3" font-weight="bold" fill="#0b0b0b" stroke="#0b0b0b" stroke-width="0.25" textLength="172.40" lengthAdjust="spacingAndGlyphs" xml:space="preserve">Distinción Genética:</text>
<text x="767.00" y="131.30" font-family="'Liberation Serif', serif" font-size="19.4" font-weight="normal" fill="#161616" stroke="#161616" stroke-width="0.4" textLength="113.60" lengthAdjust="spacingAndGlyphs" xml:space="preserve">El Análisis de</text>
<text x="767.00" y="153.50" font-family="'Liberation Serif', serif" font-size="19.4" font-weight="normal" fill="#161616" stroke="#161616" stroke-width="0.4" textLength="209.60" lengthAdjust="spacingAndGlyphs" xml:space="preserve">Componntes Principales</text>
<text x="767.60" y="175.70" font-family="'Liberation Serif', serif" font-size="19.4" font-weight="normal" fill="#161616" stroke="#161616" stroke-width="0.4" textLength="185.60" lengthAdjust="spacingAndGlyphs" xml:space="preserve">(PCA) muestra que los</text>
<text x="767.60" y="197.90" font-family="'Liberation Serif', serif" font-size="19.4" font-weight="normal" fill="#161616" stroke="#161616" stroke-width="0.4" textLength="189.40" lengthAdjust="spacingAndGlyphs" xml:space="preserve">perros de Chernóbil se</text>
<text x="766.90" y="220.20" font-family="'Liberation Serif', serif" font-size="19.4" font-weight="normal" fill="#161616" stroke="#161616" stroke-width="0.4" textLength="204.10" lengthAdjust="spacingAndGlyphs" xml:space="preserve">agrupan separadamente</text>
<text x="767.20" y="242.50" font-family="'Liberation Serif', serif" font-size="19.4" font-weight="normal" fill="#161616" stroke="#161616" stroke-width="0.4" textLength="172.40" lengthAdjust="spacingAndGlyphs" xml:space="preserve">de&#160; los perros de raza</text>
<text x="767.60" y="264.80" font-family="'Liberation Serif', serif" font-size="19.4" font-weight="normal" fill="#161616" stroke="#161616" stroke-width="0.4" textLength="201.40" lengthAdjust="spacingAndGlyphs" xml:space="preserve">pura y de otros perros de</text>
<text x="767.90" y="287.00" font-family="'Liberation Serif', serif" font-size="19.4" font-weight="normal" fill="#161616" stroke="#161616" stroke-width="0.4" textLength="80.50" lengthAdjust="spacingAndGlyphs" xml:space="preserve">vida libre.</text>
<text x="767.20" y="339.00" font-family="'Liberation Sans', sans-serif" font-size="18.3" font-weight="bold" fill="#0b0b0b" stroke="#0b0b0b" stroke-width="0.25" textLength="157.20" lengthAdjust="spacingAndGlyphs" xml:space="preserve">Estructura Interna:</text>
<text x="928.00" y="339.30" font-family="'Liberation Serif', serif" font-size="19.4" font-weight="normal" fill="#161616" stroke="#161616" stroke-width="0.4" textLength="49.00" lengthAdjust="spacingAndGlyphs" xml:space="preserve">Existe</text>
<text x="767.20" y="361.50" font-family="'Liberation Serif', serif" font-size="19.4" font-weight="normal" fill="#161616" stroke="#161616" stroke-width="0.4" textLength="167.40" lengthAdjust="spacingAndGlyphs" xml:space="preserve">una clara separación</text>
<text x="766.90" y="383.50" font-family="'Liberation Serif', serif" font-size="19.4" font-weight="normal" fill="#161616" stroke="#161616" stroke-width="0.4" textLength="200.30" lengthAdjust="spacingAndGlyphs" xml:space="preserve">genética entre los perros</text>
<text x="766.90" y="405.60" font-family="'Liberation Serif', serif" font-size="19.4" font-weight="normal" fill="#161616" stroke="#161616" stroke-width="0.4" textLength="164.10" lengthAdjust="spacingAndGlyphs" xml:space="preserve">que viven dentro del</text>
<text x="767.20" y="427.60" font-family="'Liberation Serif', serif" font-size="19.4" font-weight="normal" fill="#161616" stroke="#161616" stroke-width="0.4" textLength="188.20" lengthAdjust="spacingAndGlyphs" xml:space="preserve">reactor (CNPP) y los de</text>
<text x="767.20" y="449.80" font-family="'Liberation Serif', serif" font-size="19.4" font-weight="normal" fill="#161616" stroke="#161616" stroke-width="0.4" textLength="153.20" lengthAdjust="spacingAndGlyphs" xml:space="preserve">ciudad residencial.</text>
  </g>
</svg>

<div class="ylab">PC2 (14.9%)</div>




<div class="bul" style="left:751px;top:99.7px"></div>
<div class="bul" style="left:751px;top:330px"></div>

<div class="fab">
  <svg width="60" height="60" viewBox="0 0 60 60" style="position:absolute;left:0;top:0">
    <g fill="none" stroke="#fff" stroke-width="1.6" stroke-linejoin="round" stroke-linecap="round">
      <path d="M31 22 H22 a2.5 2.5 0 0 0 -2.500 2.500 V34 a2.500 2.500 0 0 0 2.500 2.500 H24.200 V40.800 L29 36.500 H36 a2.500 2.500 0 0 0 2.500 -2.500 V29.500"/>
      <path d="M36.000 18.000 L37.500 21.800 L41.300 23.300 L37.500 24.800 L36.000 28.600 L34.500 24.800 L30.700 23.300 L34.500 21.800 Z" transform="rotate(14 36.000 23.300)"/>
    </g>
    <path d="M29.300 27.500 L30.100 29.500 L32.100 30.300 L30.100 31.100 L29.300 33.100 L28.500 31.100 L26.500 30.300 L28.500 29.500 Z" fill="#fff" transform="rotate(12 29.300 30.300)"/>
  </svg>
</div>
</body>
</html>
